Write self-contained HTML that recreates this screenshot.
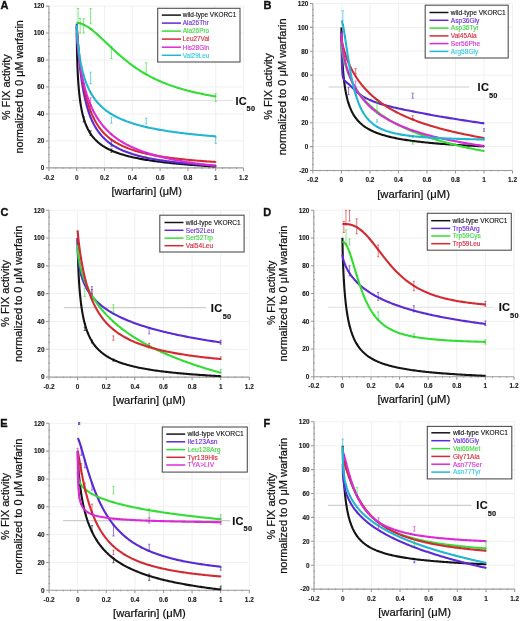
<!DOCTYPE html>
<html><head><meta charset="utf-8"><style>
html,body{margin:0;padding:0;background:#fff;}
svg{display:block;filter:blur(0.3px);}
text{font-family:"Liberation Sans", sans-serif;}
</style></head><body>
<svg width="520" height="621" viewBox="0 0 520 621">
<rect width="520" height="621" fill="#fff"/>
<path d="M76.7 6.08V167.9M104.5 6.08V167.9M132.3 6.08V167.9M160.1 6.08V167.9M187.9 6.08V167.9M215.7 6.08V167.9M243.5 6.08V167.9M48.9 140.93H243.5M48.9 113.96H243.5M48.9 86.99H243.5M48.9 60.02H243.5M48.9 33.05H243.5M48.9 6.08H243.5" stroke="#f0f0f0" stroke-width="1" fill="none"/>
<path d="M72 100.48H232.7" stroke="#e0e0e0" stroke-width="1.2" fill="none"/>
<path d="M48.9 6.08V170.4M46.4 167.9H243.5M45.9 167.9h3M45.9 140.93h3M45.9 113.96h3M45.9 86.99h3M45.9 60.02h3M45.9 33.05h3M45.9 6.08h3M48.9 167.9v3M76.7 167.9v3M104.5 167.9v3M132.3 167.9v3M160.1 167.9v3M187.9 167.9v3M215.7 167.9v3M243.5 167.9v3" stroke="#9a9a9a" stroke-width="1.1" fill="none"/>
<path d="M48.4 161.16h1.5M48.4 154.42h1.5M48.4 147.67h1.5M48.4 134.19h1.5M48.4 127.45h1.5M48.4 120.7h1.5M48.4 107.22h1.5M48.4 100.48h1.5M48.4 93.73h1.5M48.4 80.25h1.5M48.4 73.51h1.5M48.4 66.76h1.5M48.4 53.28h1.5M48.4 46.53h1.5M48.4 39.79h1.5M48.4 26.31h1.5M48.4 19.56h1.5M48.4 12.82h1.5M55.85 167.4v1.5M62.8 167.4v1.5M69.75 167.4v1.5M83.65 167.4v1.5M90.6 167.4v1.5M97.55 167.4v1.5M111.45 167.4v1.5M118.4 167.4v1.5M125.35 167.4v1.5M139.25 167.4v1.5M146.2 167.4v1.5M153.15 167.4v1.5M167.05 167.4v1.5M174 167.4v1.5M180.95 167.4v1.5M194.85 167.4v1.5M201.8 167.4v1.5M208.75 167.4v1.5M222.65 167.4v1.5M229.6 167.4v1.5M236.55 167.4v1.5" stroke="#999" stroke-width="1" fill="none"/>
<g font-size="6.4" fill="#1a1a1a" font-weight="bold" stroke="#1a1a1a" stroke-width="0.12"><text x="44.4" y="170.2" text-anchor="end">0</text><text x="44.4" y="143.23" text-anchor="end">20</text><text x="44.4" y="116.26" text-anchor="end">40</text><text x="44.4" y="89.29" text-anchor="end">60</text><text x="44.4" y="62.32" text-anchor="end">80</text><text x="44.4" y="35.35" text-anchor="end">100</text><text x="44.4" y="8.38" text-anchor="end">120</text><text x="48.9" y="179.5" text-anchor="middle">-0.2</text><text x="76.7" y="179.5" text-anchor="middle">0</text><text x="104.5" y="179.5" text-anchor="middle">0.2</text><text x="132.3" y="179.5" text-anchor="middle">0.4</text><text x="160.1" y="179.5" text-anchor="middle">0.6</text><text x="187.9" y="179.5" text-anchor="middle">0.8</text><text x="215.7" y="179.5" text-anchor="middle">1</text><text x="243.5" y="179.5" text-anchor="middle">1.2</text></g>
<path d="M76.7,26.31 76.98,50.42 77.26,60.96 77.53,68.48 77.81,74.39 78.09,79.27 78.37,83.43 78.65,87.04 78.92,90.24 79.2,93.1 79.48,95.68 79.76,98.03 80.04,100.18 80.31,102.16 80.59,104 80.87,105.72 81.15,107.32 81.43,108.81 81.7,110.22 81.98,111.55 82.26,112.81 82.54,114 82.82,115.13 83.09,116.2 83.37,117.23 83.65,118.21 85.04,122.51 86.43,126.05 87.82,129.03 89.21,131.6 90.6,133.83 91.99,135.8 93.38,137.55 94.77,139.13 96.16,140.55 97.55,141.85 98.94,143.04 100.33,144.13 101.72,145.14 103.11,146.07 104.5,146.94 105.89,147.76 107.28,148.52 108.67,149.24 110.06,149.91 111.45,150.55 112.84,151.15 114.23,151.72 115.62,152.26 117.01,152.78 118.4,153.27 119.79,153.73 121.18,154.18 122.57,154.61 123.96,155.02 125.35,155.41 126.74,155.78 128.13,156.15 129.52,156.49 130.91,156.83 132.3,157.15 133.69,157.46 135.08,157.76 136.47,158.05 137.86,158.33 139.25,158.6 140.64,158.87 142.03,159.12 143.42,159.37 144.81,159.61 146.2,159.84 147.59,160.06 148.98,160.28 150.37,160.49 151.76,160.7 153.15,160.9 154.54,161.1 155.93,161.29 157.32,161.47 158.71,161.66 160.1,161.83 161.49,162 162.88,162.17 164.27,162.34 165.66,162.5 167.05,162.65 168.44,162.81 169.83,162.96 171.22,163.1 172.61,163.24 174,163.38 175.39,163.52 176.78,163.66 178.17,163.79 179.56,163.92 180.95,164.04 182.34,164.16 183.73,164.29 185.12,164.4 186.51,164.52 187.9,164.64 189.29,164.75 190.68,164.86 192.07,164.97 193.46,165.07 194.85,165.18 196.24,165.28 197.63,165.38 199.02,165.48 200.41,165.57 201.8,165.67 203.19,165.76 204.58,165.86 205.97,165.95 207.36,166.04 208.75,166.12 210.14,166.21 211.53,166.3 212.92,166.38 214.31,166.46 215.7,166.54" stroke="#141414" stroke-width="2.1" fill="none" stroke-linejoin="round"/>
<path d="M77.39 78.57h1.4v1.4h-1.4zM79.47 100.49h1.4v1.4h-1.4zM82.95 117.51h1.4v1.4h-1.4zM89.9 133.13h1.4v1.4h-1.4zM110.75 149.85h1.4v1.4h-1.4zM145.5 159.14h1.4v1.4h-1.4zM215 165.84h1.4v1.4h-1.4z" fill="#000" opacity="0.55"/>
<path d="M76.7,23.6 76.98,29.03 77.26,33.85 77.53,38.28 77.81,42.4 78.09,46.24 78.37,49.84 78.65,53.22 78.92,56.41 79.2,59.43 79.48,62.28 79.76,64.99 80.04,67.56 80.31,70.01 80.59,72.34 80.87,74.57 81.15,76.7 81.43,78.73 81.7,80.68 81.98,82.55 82.26,84.34 82.54,86.06 82.82,87.72 83.09,89.31 83.37,90.84 83.65,92.32 85.04,98.96 86.43,104.59 87.82,109.42 89.21,113.61 90.6,117.29 91.99,120.54 93.38,123.44 94.77,126.04 96.16,128.38 97.55,130.5 98.94,132.44 100.33,134.21 101.72,135.84 103.11,137.34 104.5,138.73 105.89,140.01 107.28,141.21 108.67,142.33 110.06,143.37 111.45,144.35 112.84,145.27 114.23,146.13 115.62,146.94 117.01,147.71 118.4,148.44 119.79,149.13 121.18,149.78 122.57,150.41 123.96,151 125.35,151.56 126.74,152.1 128.13,152.61 129.52,153.1 130.91,153.57 132.3,154.01 133.69,154.44 135.08,154.86 136.47,155.25 137.86,155.63 139.25,156 140.64,156.35 142.03,156.69 143.42,157.02 144.81,157.33 146.2,157.64 147.59,157.93 148.98,158.21 150.37,158.49 151.76,158.75 153.15,159.01 154.54,159.26 155.93,159.5 157.32,159.74 158.71,159.96 160.1,160.18 161.49,160.4 162.88,160.61 164.27,160.81 165.66,161 167.05,161.19 168.44,161.38 169.83,161.56 171.22,161.74 172.61,161.91 174,162.07 175.39,162.24 176.78,162.4 178.17,162.55 179.56,162.7 180.95,162.85 182.34,162.99 183.73,163.13 185.12,163.27 186.51,163.4 187.9,163.54 189.29,163.66 190.68,163.79 192.07,163.91 193.46,164.03 194.85,164.15 196.24,164.26 197.63,164.37 199.02,164.48 200.41,164.59 201.8,164.7 203.19,164.8 204.58,164.9 205.97,165 207.36,165.1 208.75,165.2 210.14,165.29 211.53,165.38 212.92,165.47 214.31,165.56 215.7,165.65" stroke="#5a2ad6" stroke-width="2.1" fill="none" stroke-linejoin="round"/>
<path d="M77.39 45.54h1.4v1.4h-1.4zM79.47 68.1h1.4v1.4h-1.4zM82.95 91.62h1.4v1.4h-1.4zM89.9 116.59h1.4v1.4h-1.4zM110.75 143.65h1.4v1.4h-1.4zM145.5 156.94h1.4v1.4h-1.4zM215 164.95h1.4v1.4h-1.4z" fill="#3a1a9a" opacity="0.55"/>
<path d="M76.7,22.87 76.98,22.88 77.26,22.89 77.53,22.91 77.81,22.93 78.09,22.97 78.37,23 78.65,23.05 78.92,23.09 79.2,23.15 79.48,23.21 79.76,23.27 80.04,23.34 80.31,23.41 80.59,23.49 80.87,23.57 81.15,23.66 81.43,23.75 81.7,23.85 81.98,23.95 82.26,24.05 82.54,24.16 82.82,24.27 83.09,24.39 83.37,24.51 83.65,24.64 85.04,25.32 86.43,26.09 87.82,26.94 89.21,27.87 90.6,28.87 91.99,29.92 93.38,31.03 94.77,32.19 96.16,33.38 97.55,34.61 98.94,35.87 100.33,37.16 101.72,38.46 103.11,39.78 104.5,41.1 105.89,42.43 107.28,43.76 108.67,45.09 110.06,46.42 111.45,47.73 112.84,49.04 114.23,50.33 115.62,51.61 117.01,52.88 118.4,54.12 119.79,55.35 121.18,56.55 122.57,57.74 123.96,58.9 125.35,60.04 126.74,61.16 128.13,62.25 129.52,63.32 130.91,64.37 132.3,65.39 133.69,66.39 135.08,67.37 136.47,68.32 137.86,69.25 139.25,70.16 140.64,71.04 142.03,71.9 143.42,72.74 144.81,73.56 146.2,74.36 147.59,75.14 148.98,75.89 150.37,76.63 151.76,77.35 153.15,78.05 154.54,78.73 155.93,79.39 157.32,80.04 158.71,80.67 160.1,81.28 161.49,81.88 162.88,82.46 164.27,83.02 165.66,83.57 167.05,84.11 168.44,84.63 169.83,85.14 171.22,85.63 172.61,86.12 174,86.59 175.39,87.05 176.78,87.49 178.17,87.93 179.56,88.35 180.95,88.77 182.34,89.17 183.73,89.56 185.12,89.94 186.51,90.32 187.9,90.68 189.29,91.04 190.68,91.39 192.07,91.72 193.46,92.05 194.85,92.38 196.24,92.69 197.63,93 199.02,93.3 200.41,93.59 201.8,93.88 203.19,94.16 204.58,94.43 205.97,94.7 207.36,94.96 208.75,95.21 210.14,95.46 211.53,95.7 212.92,95.94 214.31,96.17 215.7,96.4" stroke="#33dd33" stroke-width="2.1" fill="none" stroke-linejoin="round"/>
<path d="M77.39 22.27h1.4v1.4h-1.4zM79.47 22.67h1.4v1.4h-1.4zM82.95 23.94h1.4v1.4h-1.4zM89.9 28.17h1.4v1.4h-1.4zM110.75 47.03h1.4v1.4h-1.4zM145.5 73.66h1.4v1.4h-1.4zM215 95.7h1.4v1.4h-1.4z" fill="#2a9a2a" opacity="0.55"/>
<path d="M76.7,26.31 76.98,30.1 77.26,33.76 77.53,37.26 77.81,40.6 78.09,43.79 78.37,46.83 78.65,49.74 78.92,52.52 79.2,55.18 79.48,57.73 79.76,60.17 80.04,62.51 80.31,64.76 80.59,66.92 80.87,68.99 81.15,70.99 81.43,72.91 81.7,74.76 81.98,76.54 82.26,78.26 82.54,79.92 82.82,81.52 83.09,83.07 83.37,84.57 83.65,86.01 85.04,92.59 86.43,98.24 87.82,103.14 89.21,107.43 90.6,111.21 91.99,114.58 93.38,117.59 94.77,120.31 96.16,122.76 97.55,124.99 98.94,127.03 100.33,128.89 101.72,130.61 103.11,132.2 104.5,133.66 105.89,135.02 107.28,136.29 108.67,137.47 110.06,138.58 111.45,139.61 112.84,140.59 114.23,141.5 115.62,142.37 117.01,143.18 118.4,143.95 119.79,144.68 121.18,145.37 122.57,146.03 123.96,146.65 125.35,147.25 126.74,147.82 128.13,148.36 129.52,148.87 130.91,149.37 132.3,149.84 133.69,150.3 135.08,150.73 136.47,151.15 137.86,151.55 139.25,151.93 140.64,152.3 142.03,152.66 143.42,153.01 144.81,153.34 146.2,153.66 147.59,153.96 148.98,154.26 150.37,154.55 151.76,154.83 153.15,155.1 154.54,155.36 155.93,155.61 157.32,155.86 158.71,156.09 160.1,156.33 161.49,156.55 162.88,156.77 164.27,156.98 165.66,157.18 167.05,157.38 168.44,157.57 169.83,157.76 171.22,157.94 172.61,158.12 174,158.3 175.39,158.47 176.78,158.63 178.17,158.79 179.56,158.95 180.95,159.1 182.34,159.25 183.73,159.4 185.12,159.54 186.51,159.68 187.9,159.81 189.29,159.94 190.68,160.07 192.07,160.2 193.46,160.32 194.85,160.45 196.24,160.56 197.63,160.68 199.02,160.79 200.41,160.9 201.8,161.01 203.19,161.12 204.58,161.22 205.97,161.33 207.36,161.43 208.75,161.52 210.14,161.62 211.53,161.71 212.92,161.81 214.31,161.9 215.7,161.99" stroke="#d42a32" stroke-width="2.1" fill="none" stroke-linejoin="round"/>
<path d="M77.39 43.09h1.4v1.4h-1.4zM79.47 62.95h1.4v1.4h-1.4zM82.95 85.31h1.4v1.4h-1.4zM89.9 110.51h1.4v1.4h-1.4zM110.75 138.91h1.4v1.4h-1.4zM145.5 152.96h1.4v1.4h-1.4zM215 161.29h1.4v1.4h-1.4z" fill="#9a1a22" opacity="0.55"/>
<path d="M76.7,33.05 76.98,37.64 77.26,41.16 77.53,44.29 77.81,47.14 78.09,49.79 78.37,52.27 78.65,54.6 78.92,56.82 79.2,58.92 79.48,60.92 79.76,62.83 80.04,64.67 80.31,66.42 80.59,68.11 80.87,69.74 81.15,71.31 81.43,72.82 81.7,74.28 81.98,75.7 82.26,77.07 82.54,78.39 82.82,79.68 83.09,80.93 83.37,82.14 83.65,83.32 85.04,88.74 86.43,93.52 87.82,97.77 89.21,101.58 90.6,105.03 91.99,108.16 93.38,111.03 94.77,113.67 96.16,116.1 97.55,118.35 98.94,120.45 100.33,122.4 101.72,124.23 103.11,125.94 104.5,127.55 105.89,129.07 107.28,130.5 108.67,131.85 110.06,133.14 111.45,134.35 112.84,135.51 114.23,136.61 115.62,137.66 117.01,138.66 118.4,139.62 119.79,140.53 121.18,141.41 122.57,142.25 123.96,143.06 125.35,143.83 126.74,144.57 128.13,145.29 129.52,145.98 130.91,146.64 132.3,147.29 133.69,147.91 135.08,148.5 136.47,149.08 137.86,149.64 139.25,150.18 140.64,150.7 142.03,151.21 143.42,151.7 144.81,152.18 146.2,152.64 147.59,153.09 148.98,153.53 150.37,153.95 151.76,154.37 153.15,154.77 154.54,155.16 155.93,155.54 157.32,155.91 158.71,156.27 160.1,156.62 161.49,156.96 162.88,157.3 164.27,157.62 165.66,157.94 167.05,158.25 168.44,158.56 169.83,158.85 171.22,159.14 172.61,159.43 174,159.7 175.39,159.97 176.78,160.24 178.17,160.5 179.56,160.75 180.95,161 182.34,161.24 183.73,161.48 185.12,161.71 186.51,161.94 187.9,162.17 189.29,162.39 190.68,162.6 192.07,162.81 193.46,163.02 194.85,163.23 196.24,163.43 197.63,163.62 199.02,163.81 200.41,164 201.8,164.19 203.19,164.37 204.58,164.55 205.97,164.73 207.36,164.9 208.75,165.07 210.14,165.24 211.53,165.4 212.92,165.56 214.31,165.72 215.7,165.88" stroke="#dc2ad8" stroke-width="2.1" fill="none" stroke-linejoin="round"/>
<path d="M77.39 49.09h1.4v1.4h-1.4zM79.47 64.85h1.4v1.4h-1.4zM82.95 82.62h1.4v1.4h-1.4zM89.9 104.33h1.4v1.4h-1.4zM110.75 133.65h1.4v1.4h-1.4zM145.5 151.94h1.4v1.4h-1.4zM215 165.18h1.4v1.4h-1.4z" fill="#9a1a98" opacity="0.55"/>
<path d="M76.7,24.95 76.98,31.14 77.26,35.29 77.53,38.78 77.81,41.85 78.09,44.61 78.37,47.13 78.65,49.46 78.92,51.62 79.2,53.64 79.48,55.53 79.76,57.32 80.04,59.01 80.31,60.62 80.59,62.14 80.87,63.6 81.15,64.99 81.43,66.32 81.7,67.59 81.98,68.81 82.26,69.99 82.54,71.12 82.82,72.21 83.09,73.26 83.37,74.27 83.65,75.26 85.04,79.71 86.43,83.55 87.82,86.9 89.21,89.87 90.6,92.52 91.99,94.91 93.38,97.08 94.77,99.05 96.16,100.86 97.55,102.52 98.94,104.07 100.33,105.5 101.72,106.83 103.11,108.07 104.5,109.24 105.89,110.33 107.28,111.36 108.67,112.33 110.06,113.25 111.45,114.12 112.84,114.95 114.23,115.73 115.62,116.48 117.01,117.19 118.4,117.87 119.79,118.52 121.18,119.14 122.57,119.73 123.96,120.3 125.35,120.85 126.74,121.37 128.13,121.88 129.52,122.36 130.91,122.83 132.3,123.29 133.69,123.72 135.08,124.14 136.47,124.55 137.86,124.94 139.25,125.32 140.64,125.69 142.03,126.05 143.42,126.39 144.81,126.73 146.2,127.05 147.59,127.37 148.98,127.68 150.37,127.98 151.76,128.27 153.15,128.55 154.54,128.82 155.93,129.09 157.32,129.35 158.71,129.6 160.1,129.85 161.49,130.09 162.88,130.33 164.27,130.56 165.66,130.78 167.05,131 168.44,131.21 169.83,131.42 171.22,131.63 172.61,131.83 174,132.02 175.39,132.21 176.78,132.4 178.17,132.58 179.56,132.76 180.95,132.94 182.34,133.11 183.73,133.28 185.12,133.44 186.51,133.6 187.9,133.76 189.29,133.92 190.68,134.07 192.07,134.22 193.46,134.37 194.85,134.51 196.24,134.65 197.63,134.79 199.02,134.93 200.41,135.06 201.8,135.19 203.19,135.32 204.58,135.45 205.97,135.57 207.36,135.7 208.75,135.82 210.14,135.93 211.53,136.05 212.92,136.17 214.31,136.28 215.7,136.39" stroke="#22b6d2" stroke-width="2.1" fill="none" stroke-linejoin="round"/>
<path d="M77.39 43.91h1.4v1.4h-1.4zM79.47 59.13h1.4v1.4h-1.4zM82.95 74.56h1.4v1.4h-1.4zM89.9 91.82h1.4v1.4h-1.4zM110.75 113.42h1.4v1.4h-1.4zM145.5 126.35h1.4v1.4h-1.4zM215 135.69h1.4v1.4h-1.4z" fill="#1a8aa0" opacity="0.55"/>
<path d="M78.09 8.51V22.94M76.99 8.51h2.2M76.99 22.94h2.2" stroke="#33dd33" stroke-width="0.9" fill="none" opacity="0.7"/><path d="M80.17 18.49V33.05M79.08 18.49h2.2M79.08 33.05h2.2" stroke="#33dd33" stroke-width="0.9" fill="none" opacity="0.7"/><path d="M83.65 18.49V33.05M82.55 18.49h2.2M82.55 33.05h2.2" stroke="#33dd33" stroke-width="0.9" fill="none" opacity="0.7"/><path d="M90.6 8.51V23.75M89.5 8.51h2.2M89.5 23.75h2.2" stroke="#33dd33" stroke-width="0.9" fill="none" opacity="0.7"/><path d="M111.45 46.13V58.54M110.35 46.13h2.2M110.35 58.54h2.2" stroke="#33dd33" stroke-width="0.9" fill="none" opacity="0.7"/><path d="M146.2 62.72V72.16M145.1 62.72h2.2M145.1 72.16h2.2" stroke="#33dd33" stroke-width="0.9" fill="none" opacity="0.7"/><path d="M215.7 93.73V101.55M214.6 93.73h2.2M214.6 101.55h2.2" stroke="#33dd33" stroke-width="0.9" fill="none" opacity="0.7"/><path d="M90.6 72.16V83.62M89.5 72.16h2.2M89.5 83.62h2.2" stroke="#22b6d2" stroke-width="0.9" fill="none" opacity="0.7"/><path d="M111.45 117.33V123.13M110.35 117.33h2.2M110.35 123.13h2.2" stroke="#22b6d2" stroke-width="0.9" fill="none" opacity="0.7"/><path d="M146.2 118.14V123.94M145.1 118.14h2.2M145.1 123.94h2.2" stroke="#22b6d2" stroke-width="0.9" fill="none" opacity="0.7"/><path d="M215.7 137.56V143.36M214.6 137.56h2.2M214.6 143.36h2.2" stroke="#22b6d2" stroke-width="0.9" fill="none" opacity="0.7"/><path d="M90.6 97.78V107.22M89.5 97.78h2.2M89.5 107.22h2.2" stroke="#dc2ad8" stroke-width="0.9" fill="none" opacity="0.7"/><path d="M111.45 140.93V146.32M110.35 140.93h2.2M110.35 146.32h2.2" stroke="#5a2ad6" stroke-width="0.9" fill="none" opacity="0.7"/><path d="M83.65 116.66V122.05M82.55 116.66h2.2M82.55 122.05h2.2" stroke="#141414" stroke-width="0.9" fill="none" opacity="0.7"/><path d="M90.6 130.82V135.54M89.5 130.82h2.2M89.5 135.54h2.2" stroke="#141414" stroke-width="0.9" fill="none" opacity="0.7"/><path d="M111.45 149.02V152.39M110.35 149.02h2.2M110.35 152.39h2.2" stroke="#141414" stroke-width="0.9" fill="none" opacity="0.7"/>
<rect x="157.7" y="8.3" width="82.3" height="53.7" fill="#fff" stroke="#505050" stroke-width="1.1"/>
<path d="M161.8 15.1H181" stroke="#141414" stroke-width="1.5"/>
<text x="182.8" y="17.4" font-size="6.42" fill="#111111" stroke="#111111" stroke-width="0.12">wild-type VKORC1</text>
<path d="M161.8 23.1H181" stroke="#5a2ad6" stroke-width="1.5"/>
<text x="182.8" y="25.4" font-size="6.42" fill="#6a2ae0" stroke="#6a2ae0" stroke-width="0.12">Ala26Thr</text>
<path d="M161.8 31.1H181" stroke="#33dd33" stroke-width="1.5"/>
<text x="182.8" y="33.4" font-size="6.42" fill="#3ad83a" stroke="#3ad83a" stroke-width="0.12">Ala26Pro</text>
<path d="M161.8 39.1H181" stroke="#d42a32" stroke-width="1.5"/>
<text x="182.8" y="41.4" font-size="6.42" fill="#d8283a" stroke="#d8283a" stroke-width="0.12">Leu27Val</text>
<path d="M161.8 47.2H181" stroke="#dc2ad8" stroke-width="1.5"/>
<text x="182.8" y="49.5" font-size="6.42" fill="#d82ad8" stroke="#d82ad8" stroke-width="0.12">His28Gln</text>
<path d="M161.8 55.3H181" stroke="#22b6d2" stroke-width="1.5"/>
<text x="182.8" y="57.6" font-size="6.42" fill="#30c8e0" stroke="#30c8e0" stroke-width="0.12">Val29Leu</text>
<text x="235.4" y="105" font-size="11" font-weight="bold" letter-spacing="0.35" fill="#111" stroke="#111" stroke-width="0.15">IC</text>
<text x="246.6" y="110.6" font-size="7.4" font-weight="bold" letter-spacing="0.25" fill="#111" stroke="#111" stroke-width="0.15">50</text>
<text x="146.6" y="194.7" font-size="10.9" text-anchor="middle" fill="#111" stroke="#111" stroke-width="0.22">[warfarin] (μM)</text>
<text transform="translate(9.9 87.25) rotate(-90)" font-size="10.85" text-anchor="middle" fill="#111" stroke="#111" stroke-width="0.22">% FIX activity</text>
<text transform="translate(22.6 86.85) rotate(-90)" font-size="10.8" text-anchor="middle" fill="#111" stroke="#111" stroke-width="0.22">normalized to 0 μM warfarin</text>
<text x="0.4" y="8.9" font-size="11" font-weight="bold" fill="#111" stroke="#111" stroke-width="0.35">A</text>
<path d="M341.4 3.56V170.44M369.92 3.56V170.44M398.44 3.56V170.44M426.96 3.56V170.44M455.48 3.56V170.44M484 3.56V170.44M512.52 3.56V170.44M312.88 146.6H512.52M312.88 122.76H512.52M312.88 98.92H512.52M312.88 75.08H512.52M312.88 51.24H512.52M312.88 27.4H512.52M312.88 3.56H512.52" stroke="#f0f0f0" stroke-width="1" fill="none"/>
<path d="M328.5 87H469.2" stroke="#cdcdcd" stroke-width="1.2" fill="none"/>
<path d="M312.88 3.56V172.94M310.38 170.44H512.52M309.88 170.44h3M309.88 146.6h3M309.88 122.76h3M309.88 98.92h3M309.88 75.08h3M309.88 51.24h3M309.88 27.4h3M309.88 3.56h3M312.88 170.44v3M341.4 170.44v3M369.92 170.44v3M398.44 170.44v3M426.96 170.44v3M455.48 170.44v3M484 170.44v3M512.52 170.44v3" stroke="#9a9a9a" stroke-width="1.1" fill="none"/>
<path d="M312.38 164.48h1.5M312.38 158.52h1.5M312.38 152.56h1.5M312.38 140.64h1.5M312.38 134.68h1.5M312.38 128.72h1.5M312.38 116.8h1.5M312.38 110.84h1.5M312.38 104.88h1.5M312.38 92.96h1.5M312.38 87h1.5M312.38 81.04h1.5M312.38 69.12h1.5M312.38 63.16h1.5M312.38 57.2h1.5M312.38 45.28h1.5M312.38 39.32h1.5M312.38 33.36h1.5M312.38 21.44h1.5M312.38 15.48h1.5M312.38 9.52h1.5M320.01 169.94v1.5M327.14 169.94v1.5M334.27 169.94v1.5M348.53 169.94v1.5M355.66 169.94v1.5M362.79 169.94v1.5M377.05 169.94v1.5M384.18 169.94v1.5M391.31 169.94v1.5M405.57 169.94v1.5M412.7 169.94v1.5M419.83 169.94v1.5M434.09 169.94v1.5M441.22 169.94v1.5M448.35 169.94v1.5M462.61 169.94v1.5M469.74 169.94v1.5M476.87 169.94v1.5M491.13 169.94v1.5M498.26 169.94v1.5M505.39 169.94v1.5" stroke="#999" stroke-width="1" fill="none"/>
<g font-size="6.4" fill="#1a1a1a" font-weight="bold" stroke="#1a1a1a" stroke-width="0.12"><text x="308.38" y="172.74" text-anchor="end">-20</text><text x="308.38" y="148.9" text-anchor="end">0</text><text x="308.38" y="125.06" text-anchor="end">20</text><text x="308.38" y="101.22" text-anchor="end">40</text><text x="308.38" y="77.38" text-anchor="end">60</text><text x="308.38" y="53.54" text-anchor="end">80</text><text x="308.38" y="29.7" text-anchor="end">100</text><text x="308.38" y="5.86" text-anchor="end">120</text><text x="312.88" y="182.04" text-anchor="middle">-0.2</text><text x="341.4" y="182.04" text-anchor="middle">0</text><text x="369.92" y="182.04" text-anchor="middle">0.2</text><text x="398.44" y="182.04" text-anchor="middle">0.4</text><text x="426.96" y="182.04" text-anchor="middle">0.6</text><text x="455.48" y="182.04" text-anchor="middle">0.8</text><text x="484" y="182.04" text-anchor="middle">1</text><text x="512.52" y="182.04" text-anchor="middle">1.2</text></g>
<path d="M341.4,27.37 341.69,43.31 341.97,51.71 342.26,58.01 342.54,63.11 342.83,67.41 343.11,71.13 343.4,74.39 343.68,77.3 343.97,79.92 344.25,82.3 344.54,84.47 344.82,86.47 345.11,88.32 345.39,90.03 345.68,91.63 345.96,93.13 346.25,94.53 346.53,95.85 346.82,97.1 347.1,98.28 347.39,99.4 347.67,100.46 347.96,101.46 348.24,102.43 348.53,103.34 349.96,107.37 351.38,110.68 352.81,113.46 354.23,115.84 355.66,117.9 357.09,119.72 358.51,121.32 359.94,122.76 361.36,124.06 362.79,125.23 364.22,126.31 365.64,127.29 367.07,128.19 368.49,129.03 369.92,129.81 371.35,130.53 372.77,131.2 374.2,131.84 375.62,132.43 377.05,132.99 378.48,133.51 379.9,134.01 381.33,134.48 382.75,134.93 384.18,135.35 385.61,135.76 387.03,136.14 388.46,136.51 389.88,136.86 391.31,137.2 392.74,137.52 394.16,137.83 395.59,138.12 397.01,138.41 398.44,138.68 399.87,138.94 401.29,139.19 402.72,139.44 404.14,139.67 405.57,139.9 407,140.12 408.42,140.33 409.85,140.54 411.27,140.74 412.7,140.93 414.13,141.12 415.55,141.3 416.98,141.48 418.4,141.65 419.83,141.81 421.26,141.97 422.68,142.13 424.11,142.28 425.53,142.43 426.96,142.58 428.39,142.72 429.81,142.86 431.24,142.99 432.66,143.12 434.09,143.25 435.52,143.37 436.94,143.49 438.37,143.61 439.79,143.73 441.22,143.84 442.65,143.95 444.07,144.06 445.5,144.17 446.92,144.27 448.35,144.37 449.78,144.47 451.2,144.57 452.63,144.66 454.05,144.76 455.48,144.85 456.91,144.94 458.33,145.02 459.76,145.11 461.18,145.19 462.61,145.28 464.04,145.36 465.46,145.44 466.89,145.52 468.31,145.59 469.74,145.67 471.17,145.74 472.59,145.82 474.02,145.89 475.44,145.96 476.87,146.03 478.3,146.1 479.72,146.16 481.15,146.23 482.57,146.29 484,146.36" stroke="#141414" stroke-width="2.1" fill="none" stroke-linejoin="round"/>
<path d="M342.13 66.71h1.4v1.4h-1.4zM344.26 86.71h1.4v1.4h-1.4zM347.83 102.64h1.4v1.4h-1.4zM354.96 117.2h1.4v1.4h-1.4zM376.35 132.29h1.4v1.4h-1.4zM412 140.23h1.4v1.4h-1.4zM483.3 145.66h1.4v1.4h-1.4z" fill="#000" opacity="0.55"/>
<path d="M341.4,31.57 341.69,52.27 341.97,64.61 342.26,71.53 342.54,74.84 342.83,76.44 343.11,77.58 343.4,78.43 343.68,79.09 343.97,79.62 344.25,80.06 344.54,80.44 344.82,80.77 345.11,81.07 345.39,81.35 345.68,81.61 345.96,81.86 346.25,82.11 346.53,82.35 346.82,82.59 347.1,82.83 347.39,83.07 347.67,83.31 347.96,83.55 348.24,83.79 348.53,84.04 349.96,85.31 351.38,86.67 352.81,88.1 354.23,89.52 355.66,90.87 357.09,92.15 358.51,93.34 359.94,94.43 361.36,95.44 362.79,96.36 364.22,97.2 365.64,97.97 367.07,98.67 368.49,99.35 369.92,99.98 371.35,100.59 372.77,101.16 374.2,101.71 375.62,102.24 377.05,102.74 378.48,103.23 379.9,103.69 381.33,104.13 382.75,104.56 384.18,104.96 385.61,105.36 387.03,105.73 388.46,106.1 389.88,106.46 391.31,106.81 392.74,107.15 394.16,107.48 395.59,107.82 397.01,108.14 398.44,108.46 399.87,108.77 401.29,109.07 402.72,109.37 404.14,109.66 405.57,109.95 407,110.23 408.42,110.52 409.85,110.8 411.27,111.08 412.7,111.37 414.13,111.65 415.55,111.94 416.98,112.22 418.4,112.5 419.83,112.78 421.26,113.05 422.68,113.32 424.11,113.59 425.53,113.86 426.96,114.13 428.39,114.39 429.81,114.65 431.24,114.91 432.66,115.17 434.09,115.42 435.52,115.68 436.94,115.93 438.37,116.18 439.79,116.42 441.22,116.67 442.65,116.91 444.07,117.16 445.5,117.4 446.92,117.64 448.35,117.87 449.78,118.11 451.2,118.34 452.63,118.58 454.05,118.81 455.48,119.04 456.91,119.26 458.33,119.49 459.76,119.72 461.18,119.94 462.61,120.16 464.04,120.39 465.46,120.61 466.89,120.82 468.31,121.04 469.74,121.26 471.17,121.47 472.59,121.69 474.02,121.9 475.44,122.11 476.87,122.32 478.3,122.53 479.72,122.74 481.15,122.95 482.57,123.15 484,123.36" stroke="#5a2ad6" stroke-width="2.1" fill="none" stroke-linejoin="round"/>
<path d="M342.13 75.74h1.4v1.4h-1.4zM344.26 80.22h1.4v1.4h-1.4zM347.83 83.34h1.4v1.4h-1.4zM354.96 90.17h1.4v1.4h-1.4zM376.35 102.04h1.4v1.4h-1.4zM412 110.67h1.4v1.4h-1.4zM483.3 122.66h1.4v1.4h-1.4z" fill="#3a1a9a" opacity="0.55"/>
<path d="M341.4,41.7 341.69,46.18 341.97,48.72 342.26,50.8 342.54,52.61 342.83,54.24 343.11,55.74 343.4,57.13 343.68,58.44 343.97,59.67 344.25,60.84 344.54,61.96 344.82,63.03 345.11,64.05 345.39,65.04 345.68,65.99 345.96,66.9 346.25,67.79 346.53,68.65 346.82,69.49 347.1,70.3 347.39,71.09 347.67,71.86 347.96,72.61 348.24,73.34 348.53,74.05 349.96,77.4 351.38,80.41 352.81,83.17 354.23,85.72 355.66,88.08 357.09,90.28 358.51,92.35 359.94,94.29 361.36,96.13 362.79,97.87 364.22,99.53 365.64,101.1 367.07,102.61 368.49,104.05 369.92,105.43 371.35,106.75 372.77,108.03 374.2,109.25 375.62,110.43 377.05,111.57 378.48,112.67 379.9,113.73 381.33,114.76 382.75,115.76 384.18,116.73 385.61,117.66 387.03,118.57 388.46,119.46 389.88,120.32 391.31,121.15 392.74,121.97 394.16,122.76 395.59,123.53 397.01,124.28 398.44,125.02 399.87,125.73 401.29,126.43 402.72,127.12 404.14,127.79 405.57,128.44 407,129.08 408.42,129.7 409.85,130.32 411.27,130.91 412.7,131.5 414.13,132.08 415.55,132.64 416.98,133.19 418.4,133.73 419.83,134.26 421.26,134.79 422.68,135.3 424.11,135.8 425.53,136.29 426.96,136.78 428.39,137.25 429.81,137.72 431.24,138.18 432.66,138.63 434.09,139.08 435.52,139.51 436.94,139.94 438.37,140.36 439.79,140.78 441.22,141.19 442.65,141.59 444.07,141.99 445.5,142.38 446.92,142.77 448.35,143.14 449.78,143.52 451.2,143.89 452.63,144.25 454.05,144.61 455.48,144.96 456.91,145.31 458.33,145.65 459.76,145.99 461.18,146.32 462.61,146.65 464.04,146.98 465.46,147.3 466.89,147.61 468.31,147.92 469.74,148.23 471.17,148.54 472.59,148.84 474.02,149.13 475.44,149.43 476.87,149.72 478.3,150 479.72,150.28 481.15,150.56 482.57,150.84 484,151.11" stroke="#33dd33" stroke-width="2.1" fill="none" stroke-linejoin="round"/>
<path d="M342.13 53.54h1.4v1.4h-1.4zM344.26 62.84h1.4v1.4h-1.4zM347.83 73.35h1.4v1.4h-1.4zM354.96 87.38h1.4v1.4h-1.4zM376.35 110.87h1.4v1.4h-1.4zM412 130.8h1.4v1.4h-1.4zM483.3 150.41h1.4v1.4h-1.4z" fill="#2a9a2a" opacity="0.55"/>
<path d="M341.4,36.93 341.69,39.42 341.97,41.16 342.26,42.68 342.54,44.06 342.83,45.33 343.11,46.54 343.4,47.67 343.68,48.76 343.97,49.8 344.25,50.8 344.54,51.76 344.82,52.69 345.11,53.59 345.39,54.47 345.68,55.31 345.96,56.14 346.25,56.94 346.53,57.73 346.82,58.49 347.1,59.24 347.39,59.97 347.67,60.68 347.96,61.38 348.24,62.07 348.53,62.74 349.96,65.91 351.38,68.81 352.81,71.48 354.23,73.97 355.66,76.3 357.09,78.47 358.51,80.53 359.94,82.47 361.36,84.3 362.79,86.05 364.22,87.7 365.64,89.29 367.07,90.8 368.49,92.25 369.92,93.63 371.35,94.96 372.77,96.24 374.2,97.47 375.62,98.65 377.05,99.8 378.48,100.9 379.9,101.96 381.33,102.99 382.75,103.99 384.18,104.95 385.61,105.89 387.03,106.79 388.46,107.67 389.88,108.53 391.31,109.36 392.74,110.16 394.16,110.95 395.59,111.71 397.01,112.45 398.44,113.18 399.87,113.88 401.29,114.57 402.72,115.24 404.14,115.9 405.57,116.54 407,117.16 408.42,117.77 409.85,118.36 411.27,118.95 412.7,119.52 414.13,120.07 415.55,120.62 416.98,121.15 418.4,121.68 419.83,122.19 421.26,122.69 422.68,123.18 424.11,123.66 425.53,124.14 426.96,124.6 428.39,125.05 429.81,125.5 431.24,125.94 432.66,126.37 434.09,126.79 435.52,127.2 436.94,127.61 438.37,128.01 439.79,128.4 441.22,128.79 442.65,129.17 444.07,129.54 445.5,129.91 446.92,130.27 448.35,130.62 449.78,130.97 451.2,131.32 452.63,131.66 454.05,131.99 455.48,132.32 456.91,132.64 458.33,132.96 459.76,133.27 461.18,133.58 462.61,133.88 464.04,134.18 465.46,134.48 466.89,134.77 468.31,135.06 469.74,135.34 471.17,135.62 472.59,135.89 474.02,136.16 475.44,136.43 476.87,136.7 478.3,136.96 479.72,137.21 481.15,137.47 482.57,137.72 484,137.96" stroke="#d42a32" stroke-width="2.1" fill="none" stroke-linejoin="round"/>
<path d="M342.13 44.63h1.4v1.4h-1.4zM344.26 52.44h1.4v1.4h-1.4zM347.83 62.04h1.4v1.4h-1.4zM354.96 75.6h1.4v1.4h-1.4zM376.35 99.1h1.4v1.4h-1.4zM412 118.82h1.4v1.4h-1.4zM483.3 137.26h1.4v1.4h-1.4z" fill="#9a1a22" opacity="0.55"/>
<path d="M341.4,33.35 341.69,38.65 341.97,41.82 342.26,44.42 342.54,46.69 342.83,48.74 343.11,50.61 343.4,52.35 343.68,53.97 343.97,55.49 344.25,56.94 344.54,58.31 344.82,59.62 345.11,60.86 345.39,62.06 345.68,63.21 345.96,64.32 346.25,65.39 346.53,66.42 346.82,67.42 347.1,68.38 347.39,69.32 347.67,70.22 347.96,71.11 348.24,71.96 348.53,72.8 349.96,76.67 351.38,80.11 352.81,83.2 354.23,86.02 355.66,88.6 357.09,90.98 358.51,93.19 359.94,95.24 361.36,97.16 362.79,98.96 364.22,100.66 365.64,102.26 367.07,103.78 368.49,105.22 369.92,106.58 371.35,107.88 372.77,109.12 374.2,110.31 375.62,111.44 377.05,112.53 378.48,113.57 379.9,114.57 381.33,115.54 382.75,116.47 384.18,117.36 385.61,118.22 387.03,119.05 388.46,119.86 389.88,120.64 391.31,121.39 392.74,122.12 394.16,122.83 395.59,123.51 397.01,124.18 398.44,124.83 399.87,125.45 401.29,126.06 402.72,126.66 404.14,127.24 405.57,127.8 407,128.35 408.42,128.88 409.85,129.4 411.27,129.91 412.7,130.41 414.13,130.89 415.55,131.36 416.98,131.83 418.4,132.28 419.83,132.72 421.26,133.15 422.68,133.57 424.11,133.99 425.53,134.39 426.96,134.79 428.39,135.18 429.81,135.56 431.24,135.93 432.66,136.3 434.09,136.65 435.52,137.01 436.94,137.35 438.37,137.69 439.79,138.02 441.22,138.35 442.65,138.67 444.07,138.98 445.5,139.29 446.92,139.59 448.35,139.89 449.78,140.19 451.2,140.47 452.63,140.76 454.05,141.04 455.48,141.31 456.91,141.58 458.33,141.84 459.76,142.11 461.18,142.36 462.61,142.62 464.04,142.87 465.46,143.11 466.89,143.35 468.31,143.59 469.74,143.83 471.17,144.06 472.59,144.28 474.02,144.51 475.44,144.73 476.87,144.95 478.3,145.16 479.72,145.38 481.15,145.59 482.57,145.79 484,146" stroke="#dc2ad8" stroke-width="2.1" fill="none" stroke-linejoin="round"/>
<path d="M342.13 48.04h1.4v1.4h-1.4zM344.26 59.55h1.4v1.4h-1.4zM347.83 72.1h1.4v1.4h-1.4zM354.96 87.9h1.4v1.4h-1.4zM376.35 111.83h1.4v1.4h-1.4zM412 129.71h1.4v1.4h-1.4zM483.3 145.3h1.4v1.4h-1.4z" fill="#9a1a98" opacity="0.55"/>
<path d="M341.4,20.86 341.69,21.13 341.97,21.7 342.26,22.51 342.54,23.51 342.83,24.68 343.11,25.99 343.4,27.43 343.68,28.97 343.97,30.6 344.25,32.31 344.54,34.08 344.82,35.9 345.11,37.77 345.39,39.66 345.68,41.57 345.96,43.5 346.25,45.43 346.53,47.37 346.82,49.29 347.1,51.21 347.39,53.11 347.67,54.99 347.96,56.84 348.24,58.67 348.53,60.47 349.96,69 351.38,76.63 352.81,83.37 354.23,89.27 355.66,94.42 357.09,98.9 358.51,102.82 359.94,106.24 361.36,109.24 362.79,111.88 364.22,114.21 365.64,116.27 367.07,118.11 368.49,119.75 369.92,121.22 371.35,122.54 372.77,123.74 374.2,124.81 375.62,125.79 377.05,126.69 378.48,127.5 379.9,128.24 381.33,128.93 382.75,129.56 384.18,130.13 385.61,130.67 387.03,131.17 388.46,131.62 389.88,132.05 391.31,132.45 392.74,132.82 394.16,133.17 395.59,133.49 397.01,133.79 398.44,134.08 399.87,134.35 401.29,134.6 402.72,134.84 404.14,135.06 405.57,135.27 407,135.47 408.42,135.66 409.85,135.84 411.27,136.01 412.7,136.17 414.13,136.33 415.55,136.47 416.98,136.61 418.4,136.74 419.83,136.87 421.26,136.99 422.68,137.11 424.11,137.22 425.53,137.32 426.96,137.42 428.39,137.52 429.81,137.61 431.24,137.7 432.66,137.78 434.09,137.87 435.52,137.95 436.94,138.02 438.37,138.09 439.79,138.16 441.22,138.23 442.65,138.3 444.07,138.36 445.5,138.42 446.92,138.48 448.35,138.53 449.78,138.59 451.2,138.64 452.63,138.69 454.05,138.74 455.48,138.79 456.91,138.83 458.33,138.88 459.76,138.92 461.18,138.96 462.61,139 464.04,139.04 465.46,139.08 466.89,139.12 468.31,139.15 469.74,139.19 471.17,139.22 472.59,139.25 474.02,139.29 475.44,139.32 476.87,139.35 478.3,139.38 479.72,139.41 481.15,139.43 482.57,139.46 484,139.49" stroke="#22b6d2" stroke-width="2.1" fill="none" stroke-linejoin="round"/>
<path d="M342.13 23.98h1.4v1.4h-1.4zM344.26 36.13h1.4v1.4h-1.4zM347.83 59.77h1.4v1.4h-1.4zM354.96 93.72h1.4v1.4h-1.4zM376.35 125.99h1.4v1.4h-1.4zM412 135.47h1.4v1.4h-1.4zM483.3 138.79h1.4v1.4h-1.4z" fill="#1a8aa0" opacity="0.55"/>
<path d="M342.83 10.71V20.84M341.73 10.71h2.2M341.73 20.84h2.2" stroke="#22b6d2" stroke-width="0.9" fill="none" opacity="0.7"/><path d="M355.66 68.52V73.89M354.56 68.52h2.2M354.56 73.89h2.2" stroke="#d42a32" stroke-width="0.9" fill="none" opacity="0.7"/><path d="M412.7 115.61V118.59M411.6 115.61h2.2M411.6 118.59h2.2" stroke="#d42a32" stroke-width="0.9" fill="none" opacity="0.7"/><path d="M348.53 87.36V94.75M347.43 87.36h2.2M347.43 94.75h2.2" stroke="#5a2ad6" stroke-width="0.9" fill="none" opacity="0.7"/><path d="M412.7 93.2V98.2M411.6 93.2h2.2M411.6 98.2h2.2" stroke="#5a2ad6" stroke-width="0.9" fill="none" opacity="0.7"/><path d="M484 128.72V131.34M482.9 128.72h2.2M482.9 131.34h2.2" stroke="#5a2ad6" stroke-width="0.9" fill="none" opacity="0.7"/><path d="M377.05 101.78V113.7M375.95 101.78h2.2M375.95 113.7h2.2" stroke="#33dd33" stroke-width="0.9" fill="none" opacity="0.7"/><path d="M412.7 142.07V144.22M411.6 142.07h2.2M411.6 144.22h2.2" stroke="#33dd33" stroke-width="0.9" fill="none" opacity="0.7"/><path d="M377.05 119.78V122.16M375.95 119.78h2.2M375.95 122.16h2.2" stroke="#22b6d2" stroke-width="0.9" fill="none" opacity="0.7"/><path d="M412.7 135.87V137.66M411.6 135.87h2.2M411.6 137.66h2.2" stroke="#22b6d2" stroke-width="0.9" fill="none" opacity="0.7"/><path d="M484 137.66V140.04M482.9 137.66h2.2M482.9 140.04h2.2" stroke="#22b6d2" stroke-width="0.9" fill="none" opacity="0.7"/><path d="M355.66 81.04V87M354.56 81.04h2.2M354.56 87h2.2" stroke="#dc2ad8" stroke-width="0.9" fill="none" opacity="0.7"/>
<rect x="425.2" y="5.2" width="83" height="52.8" fill="#fff" stroke="#505050" stroke-width="1.1"/>
<path d="M429.5 12.5H448.5" stroke="#141414" stroke-width="1.5"/>
<text x="450.8" y="14.8" font-size="6.6" fill="#111111" stroke="#111111" stroke-width="0.12">wild-type VKORC1</text>
<path d="M429.5 20.3H448.5" stroke="#5a2ad6" stroke-width="1.5"/>
<text x="450.8" y="22.6" font-size="6.6" fill="#6a2ae0" stroke="#6a2ae0" stroke-width="0.12">Asp36Gly</text>
<path d="M429.5 28.1H448.5" stroke="#33dd33" stroke-width="1.5"/>
<text x="450.8" y="30.4" font-size="6.6" fill="#3ad83a" stroke="#3ad83a" stroke-width="0.12">Asp36Tyr</text>
<path d="M429.5 35.9H448.5" stroke="#d42a32" stroke-width="1.5"/>
<text x="450.8" y="38.2" font-size="6.6" fill="#d8283a" stroke="#d8283a" stroke-width="0.12">Val45Ala</text>
<path d="M429.5 43.6H448.5" stroke="#dc2ad8" stroke-width="1.5"/>
<text x="450.8" y="45.9" font-size="6.6" fill="#d82ad8" stroke="#d82ad8" stroke-width="0.12">Ser56Phe</text>
<path d="M429.5 51.4H448.5" stroke="#22b6d2" stroke-width="1.5"/>
<text x="450.8" y="53.7" font-size="6.6" fill="#30c8e0" stroke="#30c8e0" stroke-width="0.12">Arg58Gly</text>
<text x="477.6" y="90.9" font-size="11" font-weight="bold" letter-spacing="0.35" fill="#111" stroke="#111" stroke-width="0.15">IC</text>
<text x="489" y="97.9" font-size="7.4" font-weight="bold" letter-spacing="0.25" fill="#111" stroke="#111" stroke-width="0.15">50</text>
<text x="413.55" y="197.7" font-size="11.25" text-anchor="middle" fill="#111" stroke="#111" stroke-width="0.22">[warfarin] (μM)</text>
<text transform="translate(272.3 86.6) rotate(-90)" font-size="10.97" text-anchor="middle" fill="#111" stroke="#111" stroke-width="0.22">% FIX activity</text>
<text transform="translate(285.6 86.8) rotate(-90)" font-size="11.1" text-anchor="middle" fill="#111" stroke="#111" stroke-width="0.22">normalized to 0 μM warfarin</text>
<text x="263.4" y="9" font-size="11" font-weight="bold" fill="#111" stroke="#111" stroke-width="0.35">B</text>
<path d="M77.6 210.2V377.1M106.22 210.2V377.1M134.84 210.2V377.1M163.46 210.2V377.1M192.08 210.2V377.1M220.7 210.2V377.1M249.32 210.2V377.1M48.98 349.28H249.32M48.98 321.47H249.32M48.98 293.65H249.32M48.98 265.84H249.32M48.98 238.02H249.32M48.98 210.2H249.32" stroke="#f0f0f0" stroke-width="1" fill="none"/>
<path d="M63.8 307.56H206" stroke="#cdcdcd" stroke-width="1.2" fill="none"/>
<path d="M48.98 210.2V379.6M46.48 377.1H249.32M45.98 377.1h3M45.98 349.28h3M45.98 321.47h3M45.98 293.65h3M45.98 265.84h3M45.98 238.02h3M45.98 210.2h3M48.98 377.1v3M77.6 377.1v3M106.22 377.1v3M134.84 377.1v3M163.46 377.1v3M192.08 377.1v3M220.7 377.1v3M249.32 377.1v3" stroke="#9a9a9a" stroke-width="1.1" fill="none"/>
<path d="M48.48 370.15h1.5M48.48 363.19h1.5M48.48 356.24h1.5M48.48 342.33h1.5M48.48 335.38h1.5M48.48 328.42h1.5M48.48 314.51h1.5M48.48 307.56h1.5M48.48 300.61h1.5M48.48 286.7h1.5M48.48 279.74h1.5M48.48 272.79h1.5M48.48 258.88h1.5M48.48 251.93h1.5M48.48 244.97h1.5M48.48 231.07h1.5M48.48 224.11h1.5M48.48 217.16h1.5M56.13 376.6v1.5M63.29 376.6v1.5M70.44 376.6v1.5M84.75 376.6v1.5M91.91 376.6v1.5M99.06 376.6v1.5M113.38 376.6v1.5M120.53 376.6v1.5M127.69 376.6v1.5M142 376.6v1.5M149.15 376.6v1.5M156.31 376.6v1.5M170.62 376.6v1.5M177.77 376.6v1.5M184.92 376.6v1.5M199.24 376.6v1.5M206.39 376.6v1.5M213.55 376.6v1.5M227.85 376.6v1.5M235.01 376.6v1.5M242.17 376.6v1.5" stroke="#999" stroke-width="1" fill="none"/>
<g font-size="6.4" fill="#1a1a1a" font-weight="bold" stroke="#1a1a1a" stroke-width="0.12"><text x="44.48" y="379.4" text-anchor="end">0</text><text x="44.48" y="351.58" text-anchor="end">20</text><text x="44.48" y="323.77" text-anchor="end">40</text><text x="44.48" y="295.95" text-anchor="end">60</text><text x="44.48" y="268.14" text-anchor="end">80</text><text x="44.48" y="240.32" text-anchor="end">100</text><text x="44.48" y="212.5" text-anchor="end">120</text><text x="48.98" y="388.7" text-anchor="middle">-0.2</text><text x="77.6" y="388.7" text-anchor="middle">0</text><text x="106.22" y="388.7" text-anchor="middle">0.2</text><text x="134.84" y="388.7" text-anchor="middle">0.4</text><text x="163.46" y="388.7" text-anchor="middle">0.6</text><text x="192.08" y="388.7" text-anchor="middle">0.8</text><text x="220.7" y="388.7" text-anchor="middle">1</text><text x="249.32" y="388.7" text-anchor="middle">1.2</text></g>
<path d="M77.6,237.95 77.89,254.61 78.17,263.79 78.46,270.8 78.74,276.56 79.03,281.45 79.32,285.7 79.6,289.47 79.89,292.84 80.18,295.89 80.46,298.67 80.75,301.22 81.03,303.57 81.32,305.75 81.61,307.77 81.89,309.67 82.18,311.44 82.47,313.11 82.75,314.69 83.04,316.18 83.32,317.58 83.61,318.92 83.9,320.19 84.18,321.4 84.47,322.56 84.75,323.66 86.19,328.52 87.62,332.53 89.05,335.9 90.48,338.79 91.91,341.31 93.34,343.52 94.77,345.48 96.2,347.24 97.63,348.83 99.06,350.27 100.5,351.58 101.93,352.79 103.36,353.9 104.79,354.92 106.22,355.88 107.65,356.77 109.08,357.59 110.51,358.37 111.94,359.1 113.38,359.79 114.81,360.43 116.24,361.04 117.67,361.62 119.1,362.17 120.53,362.69 121.96,363.19 123.39,363.66 124.82,364.11 126.25,364.54 127.68,364.96 129.12,365.35 130.55,365.73 131.98,366.09 133.41,366.44 134.84,366.78 136.27,367.1 137.7,367.41 139.13,367.71 140.56,368 142,368.28 143.43,368.55 144.86,368.81 146.29,369.06 147.72,369.31 149.15,369.54 150.58,369.77 152.01,370 153.44,370.21 154.87,370.42 156.31,370.62 157.74,370.82 159.17,371.01 160.6,371.2 162.03,371.38 163.46,371.56 164.89,371.73 166.32,371.9 167.75,372.07 169.18,372.23 170.62,372.38 172.05,372.54 173.48,372.68 174.91,372.83 176.34,372.97 177.77,373.11 179.2,373.25 180.63,373.38 182.06,373.51 183.49,373.63 184.93,373.76 186.36,373.88 187.79,374 189.22,374.11 190.65,374.23 192.08,374.34 193.51,374.45 194.94,374.56 196.37,374.66 197.8,374.77 199.24,374.87 200.67,374.97 202.1,375.06 203.53,375.16 204.96,375.25 206.39,375.35 207.82,375.44 209.25,375.53 210.68,375.61 212.11,375.7 213.54,375.79 214.98,375.87 216.41,375.95 217.84,376.03 219.27,376.11 220.7,376.19" stroke="#141414" stroke-width="2.1" fill="none" stroke-linejoin="round"/>
<path d="M78.33 280.75h1.4v1.4h-1.4zM80.48 303.98h1.4v1.4h-1.4zM84.05 322.96h1.4v1.4h-1.4zM91.21 340.61h1.4v1.4h-1.4zM112.67 359.09h1.4v1.4h-1.4zM148.45 368.84h1.4v1.4h-1.4zM220 375.49h1.4v1.4h-1.4z" fill="#000" opacity="0.55"/>
<path d="M77.6,238.03 77.89,252.2 78.17,256.68 78.46,259.86 78.74,262.39 79.03,264.52 79.32,266.38 79.6,268.04 79.89,269.53 80.18,270.9 80.46,272.16 80.75,273.34 81.03,274.44 81.32,275.48 81.61,276.46 81.89,277.39 82.18,278.27 82.47,279.12 82.75,279.92 83.04,280.7 83.32,281.44 83.61,282.16 83.9,282.85 84.18,283.51 84.47,284.16 84.75,284.78 86.19,287.64 87.62,290.15 89.05,292.38 90.48,294.4 91.91,296.25 93.34,297.94 94.77,299.52 96.2,300.98 97.63,302.36 99.06,303.65 100.5,304.87 101.93,306.03 103.36,307.12 104.79,308.17 106.22,309.17 107.65,310.13 109.08,311.04 110.51,311.92 111.94,312.77 113.38,313.58 114.81,314.37 116.24,315.13 117.67,315.87 119.1,316.58 120.53,317.26 121.96,317.93 123.39,318.58 124.82,319.21 126.25,319.82 127.68,320.42 129.12,321 130.55,321.56 131.98,322.12 133.41,322.65 134.84,323.18 136.27,323.69 137.7,324.19 139.13,324.68 140.56,325.16 142,325.63 143.43,326.09 144.86,326.54 146.29,326.98 147.72,327.41 149.15,327.83 150.58,328.25 152.01,328.65 153.44,329.05 154.87,329.45 156.31,329.83 157.74,330.21 159.17,330.58 160.6,330.95 162.03,331.31 163.46,331.66 164.89,332.01 166.32,332.35 167.75,332.69 169.18,333.02 170.62,333.35 172.05,333.67 173.48,333.99 174.91,334.3 176.34,334.61 177.77,334.91 179.2,335.21 180.63,335.5 182.06,335.8 183.49,336.08 184.93,336.37 186.36,336.64 187.79,336.92 189.22,337.19 190.65,337.46 192.08,337.73 193.51,337.99 194.94,338.25 196.37,338.5 197.8,338.75 199.24,339 200.67,339.25 202.1,339.49 203.53,339.73 204.96,339.97 206.39,340.21 207.82,340.44 209.25,340.67 210.68,340.9 212.11,341.12 213.54,341.34 214.98,341.56 216.41,341.78 217.84,342 219.27,342.21 220.7,342.42" stroke="#5a2ad6" stroke-width="2.1" fill="none" stroke-linejoin="round"/>
<path d="M78.33 263.82h1.4v1.4h-1.4zM80.48 274.27h1.4v1.4h-1.4zM84.05 284.08h1.4v1.4h-1.4zM91.21 295.55h1.4v1.4h-1.4zM112.67 312.88h1.4v1.4h-1.4zM148.45 327.13h1.4v1.4h-1.4zM220 341.72h1.4v1.4h-1.4z" fill="#3a1a9a" opacity="0.55"/>
<path d="M77.6,244.88 77.89,250.94 78.17,253.9 78.46,256.24 78.74,258.23 79.03,260.01 79.32,261.62 79.6,263.11 79.89,264.5 80.18,265.8 80.46,267.03 80.75,268.21 81.03,269.32 81.32,270.4 81.61,271.43 81.89,272.42 82.18,273.37 82.47,274.3 82.75,275.19 83.04,276.06 83.32,276.91 83.61,277.73 83.9,278.53 84.18,279.31 84.47,280.08 84.75,280.82 86.19,284.31 87.62,287.47 89.05,290.38 90.48,293.07 91.91,295.58 93.34,297.94 94.77,300.17 96.2,302.27 97.63,304.28 99.06,306.18 100.5,308.01 101.93,309.76 103.36,311.43 104.79,313.05 106.22,314.6 107.65,316.1 109.08,317.55 110.51,318.96 111.94,320.31 113.38,321.63 114.81,322.91 116.24,324.15 117.67,325.36 119.1,326.54 120.53,327.68 121.96,328.8 123.39,329.88 124.82,330.95 126.25,331.98 127.68,332.99 129.12,333.99 130.55,334.95 131.98,335.9 133.41,336.83 134.84,337.74 136.27,338.63 137.7,339.5 139.13,340.36 140.56,341.2 142,342.02 143.43,342.83 144.86,343.62 146.29,344.4 147.72,345.17 149.15,345.92 150.58,346.66 152.01,347.39 153.44,348.11 154.87,348.81 156.31,349.5 157.74,350.19 159.17,350.86 160.6,351.52 162.03,352.17 163.46,352.81 164.89,353.45 166.32,354.07 167.75,354.69 169.18,355.29 170.62,355.89 172.05,356.48 173.48,357.06 174.91,357.64 176.34,358.2 177.77,358.76 179.2,359.31 180.63,359.86 182.06,360.4 183.49,360.93 184.93,361.45 186.36,361.97 187.79,362.48 189.22,362.99 190.65,363.49 192.08,363.98 193.51,364.47 194.94,364.95 196.37,365.43 197.8,365.9 199.24,366.37 200.67,366.83 202.1,367.29 203.53,367.74 204.96,368.19 206.39,368.63 207.82,369.07 209.25,369.5 210.68,369.93 212.11,370.35 213.54,370.77 214.98,371.19 216.41,371.6 217.84,372.01 219.27,372.41 220.7,372.81" stroke="#33dd33" stroke-width="2.1" fill="none" stroke-linejoin="round"/>
<path d="M78.33 259.31h1.4v1.4h-1.4zM80.48 269.17h1.4v1.4h-1.4zM84.05 280.12h1.4v1.4h-1.4zM91.21 294.88h1.4v1.4h-1.4zM112.67 320.93h1.4v1.4h-1.4zM148.45 345.22h1.4v1.4h-1.4zM220 372.11h1.4v1.4h-1.4z" fill="#2a9a2a" opacity="0.55"/>
<path d="M77.6,230.78 77.89,233.97 78.17,236.8 78.46,239.44 78.74,241.94 79.03,244.31 79.32,246.58 79.6,248.75 79.89,250.83 80.18,252.83 80.46,254.75 80.75,256.61 81.03,258.4 81.32,260.12 81.61,261.8 81.89,263.41 82.18,264.98 82.47,266.5 82.75,267.97 83.04,269.4 83.32,270.78 83.61,272.13 83.9,273.44 84.18,274.71 84.47,275.95 84.75,277.15 86.19,282.73 87.62,287.67 89.05,292.07 90.48,296.02 91.91,299.6 93.34,302.84 94.77,305.81 96.2,308.52 97.63,311.03 99.06,313.34 100.5,315.48 101.93,317.48 103.36,319.33 104.79,321.07 106.22,322.7 107.65,324.22 109.08,325.66 110.51,327.02 111.94,328.3 113.38,329.51 114.81,330.65 116.24,331.74 117.67,332.78 119.1,333.76 120.53,334.7 121.96,335.59 123.39,336.44 124.82,337.26 126.25,338.04 127.68,338.79 129.12,339.51 130.55,340.2 131.98,340.86 133.41,341.49 134.84,342.11 136.27,342.69 137.7,343.26 139.13,343.81 140.56,344.34 142,344.85 143.43,345.34 144.86,345.82 146.29,346.28 147.72,346.72 149.15,347.16 150.58,347.57 152.01,347.98 153.44,348.37 154.87,348.75 156.31,349.12 157.74,349.48 159.17,349.83 160.6,350.17 162.03,350.5 163.46,350.83 164.89,351.14 166.32,351.44 167.75,351.74 169.18,352.03 170.62,352.31 172.05,352.59 173.48,352.85 174.91,353.11 176.34,353.37 177.77,353.62 179.2,353.86 180.63,354.1 182.06,354.33 183.49,354.56 184.93,354.78 186.36,355 187.79,355.21 189.22,355.42 190.65,355.62 192.08,355.82 193.51,356.01 194.94,356.2 196.37,356.39 197.8,356.57 199.24,356.75 200.67,356.93 202.1,357.1 203.53,357.27 204.96,357.43 206.39,357.6 207.82,357.76 209.25,357.91 210.68,358.07 212.11,358.22 213.54,358.36 214.98,358.51 216.41,358.65 217.84,358.79 219.27,358.93 220.7,359.07" stroke="#d42a32" stroke-width="2.1" fill="none" stroke-linejoin="round"/>
<path d="M78.33 243.61h1.4v1.4h-1.4zM80.48 258.57h1.4v1.4h-1.4zM84.05 276.45h1.4v1.4h-1.4zM91.21 298.9h1.4v1.4h-1.4zM112.67 328.81h1.4v1.4h-1.4zM148.45 346.46h1.4v1.4h-1.4zM220 358.37h1.4v1.4h-1.4z" fill="#9a1a22" opacity="0.55"/>
<path d="M77.6 230.65V242.47M76.5 230.65h2.2M76.5 242.47h2.2" stroke="#d42a32" stroke-width="0.9" fill="none" opacity="0.7"/><path d="M81.18 257.49V263.05M80.08 257.49h2.2M80.08 263.05h2.2" stroke="#d42a32" stroke-width="0.9" fill="none" opacity="0.7"/><path d="M91.91 289.48V295.04M90.81 289.48h2.2M90.81 295.04h2.2" stroke="#d42a32" stroke-width="0.9" fill="none" opacity="0.7"/><path d="M113.38 335.93V340.24M112.28 335.93h2.2M112.28 340.24h2.2" stroke="#d42a32" stroke-width="0.9" fill="none" opacity="0.7"/><path d="M149.15 343.3V347.75M148.05 343.3h2.2M148.05 347.75h2.2" stroke="#d42a32" stroke-width="0.9" fill="none" opacity="0.7"/><path d="M220.7 356.93V359.3M219.6 356.93h2.2M219.6 359.3h2.2" stroke="#d42a32" stroke-width="0.9" fill="none" opacity="0.7"/><path d="M113.38 304.78V312.15M112.28 304.78h2.2M112.28 312.15h2.2" stroke="#33dd33" stroke-width="0.9" fill="none" opacity="0.7"/><path d="M84.75 288.09V296.43M83.66 288.09h2.2M83.66 296.43h2.2" stroke="#33dd33" stroke-width="0.9" fill="none" opacity="0.7"/><path d="M220.7 369.45V372.23M219.6 369.45h2.2M219.6 372.23h2.2" stroke="#33dd33" stroke-width="0.9" fill="none" opacity="0.7"/><path d="M149.15 327.87V333.85M148.05 327.87h2.2M148.05 333.85h2.2" stroke="#5a2ad6" stroke-width="0.9" fill="none" opacity="0.7"/><path d="M220.7 340.24V344.14M219.6 340.24h2.2M219.6 344.14h2.2" stroke="#5a2ad6" stroke-width="0.9" fill="none" opacity="0.7"/><path d="M91.91 286.7V293.65M90.81 286.7h2.2M90.81 293.65h2.2" stroke="#5a2ad6" stroke-width="0.9" fill="none" opacity="0.7"/><path d="M84.75 327.03V330.51M83.66 327.03h2.2M83.66 330.51h2.2" stroke="#141414" stroke-width="0.9" fill="none" opacity="0.7"/><path d="M91.91 340.24V343.03M90.81 340.24h2.2M90.81 343.03h2.2" stroke="#141414" stroke-width="0.9" fill="none" opacity="0.7"/><path d="M113.38 359.02V361.11M112.28 359.02h2.2M112.28 361.11h2.2" stroke="#141414" stroke-width="0.9" fill="none" opacity="0.7"/>
<rect x="159.8" y="215.2" width="84.3" height="36.8" fill="#fff" stroke="#505050" stroke-width="1.1"/>
<path d="M164.5 222.5H183.5" stroke="#141414" stroke-width="1.5"/>
<text x="185.8" y="224.8" font-size="6.6" fill="#111111" stroke="#111111" stroke-width="0.12">wild-type VKORC1</text>
<path d="M164.5 230.3H183.5" stroke="#5a2ad6" stroke-width="1.5"/>
<text x="185.8" y="232.6" font-size="6.6" fill="#6a2ae0" stroke="#6a2ae0" stroke-width="0.12">Ser52Leu</text>
<path d="M164.5 238.1H183.5" stroke="#33dd33" stroke-width="1.5"/>
<text x="185.8" y="240.4" font-size="6.6" fill="#3ad83a" stroke="#3ad83a" stroke-width="0.12">Ser52Trp</text>
<path d="M164.5 245.7H183.5" stroke="#d42a32" stroke-width="1.5"/>
<text x="185.8" y="248" font-size="6.6" fill="#d8283a" stroke="#d8283a" stroke-width="0.12">Val54Leu</text>
<text x="210.8" y="311.8" font-size="11" font-weight="bold" letter-spacing="0.35" fill="#111" stroke="#111" stroke-width="0.15">IC</text>
<text x="222.7" y="318.55" font-size="7.4" font-weight="bold" letter-spacing="0.25" fill="#111" stroke="#111" stroke-width="0.15">50</text>
<text x="149.2" y="404" font-size="11.25" text-anchor="middle" fill="#111" stroke="#111" stroke-width="0.22">[warfarin] (μM)</text>
<text transform="translate(9 293.45) rotate(-90)" font-size="11.1" text-anchor="middle" fill="#111" stroke="#111" stroke-width="0.22">% FIX activity</text>
<text transform="translate(21.8 293.75) rotate(-90)" font-size="11.04" text-anchor="middle" fill="#111" stroke="#111" stroke-width="0.22">normalized to 0 μM warfarin</text>
<text x="0.4" y="215.9" font-size="11" font-weight="bold" fill="#111" stroke="#111" stroke-width="0.35">C</text>
<path d="M342.4 210.2V376.8M371 210.2V376.8M399.6 210.2V376.8M428.2 210.2V376.8M456.8 210.2V376.8M485.4 210.2V376.8M514 210.2V376.8M313.8 349.03H514M313.8 321.27H514M313.8 293.5H514M313.8 265.74H514M313.8 237.97H514M313.8 210.2H514" stroke="#f0f0f0" stroke-width="1" fill="none"/>
<path d="M328.1 307.38H494" stroke="#e6e6e6" stroke-width="1.2" fill="none"/>
<path d="M313.8 210.2V379.3M311.3 376.8H514M310.8 376.8h3M310.8 349.03h3M310.8 321.27h3M310.8 293.5h3M310.8 265.74h3M310.8 237.97h3M310.8 210.2h3M313.8 376.8v3M342.4 376.8v3M371 376.8v3M399.6 376.8v3M428.2 376.8v3M456.8 376.8v3M485.4 376.8v3M514 376.8v3" stroke="#9a9a9a" stroke-width="1.1" fill="none"/>
<path d="M313.3 369.86h1.5M313.3 362.92h1.5M313.3 355.98h1.5M313.3 342.09h1.5M313.3 335.15h1.5M313.3 328.21h1.5M313.3 314.33h1.5M313.3 307.38h1.5M313.3 300.44h1.5M313.3 286.56h1.5M313.3 279.62h1.5M313.3 272.68h1.5M313.3 258.79h1.5M313.3 251.85h1.5M313.3 244.91h1.5M313.3 231.03h1.5M313.3 224.09h1.5M313.3 217.15h1.5M320.95 376.3v1.5M328.1 376.3v1.5M335.25 376.3v1.5M349.55 376.3v1.5M356.7 376.3v1.5M363.85 376.3v1.5M378.15 376.3v1.5M385.3 376.3v1.5M392.45 376.3v1.5M406.75 376.3v1.5M413.9 376.3v1.5M421.05 376.3v1.5M435.35 376.3v1.5M442.5 376.3v1.5M449.65 376.3v1.5M463.95 376.3v1.5M471.1 376.3v1.5M478.25 376.3v1.5M492.55 376.3v1.5M499.7 376.3v1.5M506.85 376.3v1.5" stroke="#999" stroke-width="1" fill="none"/>
<g font-size="6.4" fill="#1a1a1a" font-weight="bold" stroke="#1a1a1a" stroke-width="0.12"><text x="309.3" y="379.1" text-anchor="end">0</text><text x="309.3" y="351.33" text-anchor="end">20</text><text x="309.3" y="323.57" text-anchor="end">40</text><text x="309.3" y="295.8" text-anchor="end">60</text><text x="309.3" y="268.04" text-anchor="end">80</text><text x="309.3" y="240.27" text-anchor="end">100</text><text x="309.3" y="212.5" text-anchor="end">120</text><text x="313.8" y="388.4" text-anchor="middle">-0.2</text><text x="342.4" y="388.4" text-anchor="middle">0</text><text x="371" y="388.4" text-anchor="middle">0.2</text><text x="399.6" y="388.4" text-anchor="middle">0.4</text><text x="428.2" y="388.4" text-anchor="middle">0.6</text><text x="456.8" y="388.4" text-anchor="middle">0.8</text><text x="485.4" y="388.4" text-anchor="middle">1</text><text x="514" y="388.4" text-anchor="middle">1.2</text></g>
<path d="M342.4,237.85 342.69,252 342.97,261.12 343.26,268.39 343.54,274.49 343.83,279.75 344.12,284.36 344.4,288.46 344.69,292.14 344.97,295.48 345.26,298.52 345.55,301.31 345.83,303.88 346.12,306.26 346.4,308.48 346.69,310.54 346.98,312.47 347.26,314.28 347.55,315.99 347.83,317.6 348.12,319.12 348.41,320.55 348.69,321.92 348.98,323.21 349.26,324.45 349.55,325.62 350.98,330.76 352.41,334.95 353.84,338.44 355.27,341.4 356.7,343.94 358.13,346.16 359.56,348.12 360.99,349.85 362.42,351.4 363.85,352.8 365.28,354.07 366.71,355.23 368.14,356.28 369.57,357.26 371,358.15 372.43,358.98 373.86,359.75 375.29,360.47 376.72,361.15 378.15,361.78 379.58,362.37 381.01,362.92 382.44,363.45 383.87,363.94 385.3,364.41 386.73,364.85 388.16,365.28 389.59,365.68 391.02,366.06 392.45,366.42 393.88,366.77 395.31,367.1 396.74,367.42 398.17,367.72 399.6,368.02 401.03,368.3 402.46,368.56 403.89,368.82 405.32,369.07 406.75,369.31 408.18,369.54 409.61,369.76 411.04,369.98 412.47,370.19 413.9,370.39 415.33,370.58 416.76,370.77 418.19,370.95 419.62,371.13 421.05,371.3 422.48,371.46 423.91,371.62 425.34,371.78 426.77,371.93 428.2,372.08 429.63,372.22 431.06,372.36 432.49,372.5 433.92,372.63 435.35,372.76 436.78,372.88 438.21,373 439.64,373.12 441.07,373.24 442.5,373.35 443.93,373.46 445.36,373.57 446.79,373.67 448.22,373.78 449.65,373.88 451.08,373.98 452.51,374.07 453.94,374.17 455.37,374.26 456.8,374.35 458.23,374.43 459.66,374.52 461.09,374.61 462.52,374.69 463.95,374.77 465.38,374.85 466.81,374.93 468.24,375 469.67,375.08 471.1,375.15 472.53,375.22 473.96,375.29 475.39,375.36 476.82,375.43 478.25,375.5 479.68,375.56 481.11,375.63 482.54,375.69 483.97,375.75 485.4,375.81" stroke="#141414" stroke-width="2.1" fill="none" stroke-linejoin="round"/>
<path d="M343.13 279.05h1.4v1.4h-1.4zM345.27 304.39h1.4v1.4h-1.4zM348.85 324.92h1.4v1.4h-1.4zM356 343.24h1.4v1.4h-1.4zM377.45 361.08h1.4v1.4h-1.4zM413.2 369.69h1.4v1.4h-1.4zM484.7 375.11h1.4v1.4h-1.4z" fill="#000" opacity="0.55"/>
<path d="M342.4,254.46 342.69,256.76 342.97,258.16 343.26,259.32 343.54,260.35 343.83,261.29 344.12,262.15 344.4,262.97 344.69,263.73 344.97,264.46 345.26,265.15 345.55,265.82 345.83,266.46 346.12,267.07 346.4,267.66 346.69,268.24 346.98,268.79 347.26,269.33 347.55,269.86 347.83,270.37 348.12,270.87 348.41,271.35 348.69,271.82 348.98,272.29 349.26,272.74 349.55,273.18 350.98,275.26 352.41,277.15 353.84,278.89 355.27,280.51 356.7,282.01 358.13,283.42 359.56,284.75 360.99,286.01 362.42,287.2 363.85,288.33 365.28,289.41 366.71,290.44 368.14,291.42 369.57,292.37 371,293.27 372.43,294.14 373.86,294.98 375.29,295.79 376.72,296.57 378.15,297.32 379.58,298.05 381.01,298.76 382.44,299.44 383.87,300.11 385.3,300.75 386.73,301.37 388.16,301.98 389.59,302.57 391.02,303.14 392.45,303.7 393.88,304.25 395.31,304.78 396.74,305.3 398.17,305.8 399.6,306.29 401.03,306.78 402.46,307.25 403.89,307.7 405.32,308.15 406.75,308.59 408.18,309.02 409.61,309.44 411.04,309.86 412.47,310.26 413.9,310.66 415.33,311.04 416.76,311.42 418.19,311.8 419.62,312.16 421.05,312.52 422.48,312.87 423.91,313.22 425.34,313.56 426.77,313.89 428.2,314.22 429.63,314.54 431.06,314.86 432.49,315.17 433.92,315.47 435.35,315.78 436.78,316.07 438.21,316.36 439.64,316.65 441.07,316.93 442.5,317.21 443.93,317.48 445.36,317.75 446.79,318.02 448.22,318.28 449.65,318.53 451.08,318.79 452.51,319.04 453.94,319.28 455.37,319.53 456.8,319.77 458.23,320 459.66,320.23 461.09,320.46 462.52,320.69 463.95,320.91 465.38,321.13 466.81,321.35 468.24,321.57 469.67,321.78 471.1,321.99 472.53,322.19 473.96,322.4 475.39,322.6 476.82,322.8 478.25,323 479.68,323.19 481.11,323.38 482.54,323.57 483.97,323.76 485.4,323.94" stroke="#5a2ad6" stroke-width="2.1" fill="none" stroke-linejoin="round"/>
<path d="M343.13 260.59h1.4v1.4h-1.4zM345.27 266.07h1.4v1.4h-1.4zM348.85 272.48h1.4v1.4h-1.4zM356 281.31h1.4v1.4h-1.4zM377.45 296.62h1.4v1.4h-1.4zM413.2 309.96h1.4v1.4h-1.4zM484.7 323.24h1.4v1.4h-1.4z" fill="#3a1a9a" opacity="0.55"/>
<path d="M342.4,241.91 342.69,241.93 342.97,241.97 343.26,242.05 343.54,242.17 343.83,242.32 344.12,242.51 344.4,242.73 344.69,242.99 344.97,243.29 345.26,243.62 345.55,243.99 345.83,244.39 346.12,244.83 346.4,245.3 346.69,245.8 346.98,246.34 347.26,246.91 347.55,247.5 347.83,248.13 348.12,248.78 348.41,249.46 348.69,250.17 348.98,250.9 349.26,251.65 349.55,252.43 350.98,256.58 352.41,261.09 353.84,265.79 355.27,270.56 356.7,275.29 358.13,279.88 359.56,284.28 360.99,288.45 362.42,292.36 363.85,296.01 365.28,299.39 366.71,302.52 368.14,305.4 369.57,308.04 371,310.47 372.43,312.7 373.86,314.74 375.29,316.61 376.72,318.33 378.15,319.91 379.58,321.36 381.01,322.69 382.44,323.92 383.87,325.05 385.3,326.1 386.73,327.06 388.16,327.96 389.59,328.79 391.02,329.55 392.45,330.27 393.88,330.93 395.31,331.55 396.74,332.12 398.17,332.66 399.6,333.16 401.03,333.63 402.46,334.08 403.89,334.49 405.32,334.88 406.75,335.24 408.18,335.58 409.61,335.91 411.04,336.21 412.47,336.5 413.9,336.77 415.33,337.03 416.76,337.27 418.19,337.5 419.62,337.72 421.05,337.92 422.48,338.12 423.91,338.31 425.34,338.49 426.77,338.65 428.2,338.81 429.63,338.97 431.06,339.11 432.49,339.25 433.92,339.39 435.35,339.51 436.78,339.64 438.21,339.75 439.64,339.86 441.07,339.97 442.5,340.07 443.93,340.17 445.36,340.26 446.79,340.35 448.22,340.44 449.65,340.52 451.08,340.6 452.51,340.68 453.94,340.76 455.37,340.83 456.8,340.9 458.23,340.96 459.66,341.03 461.09,341.09 462.52,341.15 463.95,341.2 465.38,341.26 466.81,341.31 468.24,341.36 469.67,341.41 471.1,341.46 472.53,341.51 473.96,341.55 475.39,341.6 476.82,341.64 478.25,341.68 479.68,341.72 481.11,341.76 482.54,341.8 483.97,341.83 485.4,341.87" stroke="#33dd33" stroke-width="2.1" fill="none" stroke-linejoin="round"/>
<path d="M343.13 241.62h1.4v1.4h-1.4zM345.27 243.91h1.4v1.4h-1.4zM348.85 251.73h1.4v1.4h-1.4zM356 274.59h1.4v1.4h-1.4zM377.45 319.21h1.4v1.4h-1.4zM413.2 336.07h1.4v1.4h-1.4zM484.7 341.17h1.4v1.4h-1.4z" fill="#2a9a2a" opacity="0.55"/>
<path d="M342.4,223.94 342.69,223.94 342.97,223.94 343.26,223.94 343.54,223.94 343.83,223.95 344.12,223.95 344.4,223.96 344.69,223.97 344.97,223.98 345.26,223.99 345.55,224 345.83,224.02 346.12,224.04 346.4,224.06 346.69,224.08 346.98,224.11 347.26,224.14 347.55,224.17 347.83,224.21 348.12,224.25 348.41,224.29 348.69,224.33 348.98,224.38 349.26,224.43 349.55,224.49 350.98,224.82 352.41,225.25 353.84,225.78 355.27,226.43 356.7,227.18 358.13,228.05 359.56,229.04 360.99,230.13 362.42,231.34 363.85,232.65 365.28,234.05 366.71,235.55 368.14,237.12 369.57,238.77 371,240.48 372.43,242.24 373.86,244.05 375.29,245.88 376.72,247.74 378.15,249.61 379.58,251.48 381.01,253.35 382.44,255.2 383.87,257.04 385.3,258.85 386.73,260.63 388.16,262.37 389.59,264.07 391.02,265.74 392.45,267.35 393.88,268.92 395.31,270.44 396.74,271.92 398.17,273.34 399.6,274.71 401.03,276.03 402.46,277.3 403.89,278.53 405.32,279.7 406.75,280.83 408.18,281.92 409.61,282.96 411.04,283.95 412.47,284.91 413.9,285.83 415.33,286.7 416.76,287.54 418.19,288.35 419.62,289.11 421.05,289.85 422.48,290.56 423.91,291.23 425.34,291.88 426.77,292.5 428.2,293.09 429.63,293.66 431.06,294.2 432.49,294.72 433.92,295.22 435.35,295.7 436.78,296.16 438.21,296.6 439.64,297.02 441.07,297.42 442.5,297.81 443.93,298.18 445.36,298.54 446.79,298.88 448.22,299.21 449.65,299.53 451.08,299.83 452.51,300.12 453.94,300.4 455.37,300.67 456.8,300.93 458.23,301.18 459.66,301.42 461.09,301.66 462.52,301.88 463.95,302.09 465.38,302.3 466.81,302.5 468.24,302.69 469.67,302.88 471.1,303.06 472.53,303.23 473.96,303.4 475.39,303.56 476.82,303.72 478.25,303.87 479.68,304.01 481.11,304.15 482.54,304.29 483.97,304.42 485.4,304.55" stroke="#d42a32" stroke-width="2.1" fill="none" stroke-linejoin="round"/>
<path d="M343.13 223.25h1.4v1.4h-1.4zM345.27 223.33h1.4v1.4h-1.4zM348.85 223.79h1.4v1.4h-1.4zM356 226.48h1.4v1.4h-1.4zM377.45 248.91h1.4v1.4h-1.4zM413.2 285.13h1.4v1.4h-1.4zM484.7 303.85h1.4v1.4h-1.4z" fill="#9a1a22" opacity="0.55"/>
<path d="M343.83 221.31V232.42M342.73 221.31h2.2M342.73 232.42h2.2" stroke="#d42a32" stroke-width="0.9" fill="none" opacity="0.7"/><path d="M345.97 210.34V225.06M344.87 210.34h2.2M344.87 225.06h2.2" stroke="#d42a32" stroke-width="0.9" fill="none" opacity="0.7"/><path d="M349.55 210.34V221.03M348.45 210.34h2.2M348.45 221.03h2.2" stroke="#d42a32" stroke-width="0.9" fill="none" opacity="0.7"/><path d="M356.7 218.81V233.81M355.6 218.81h2.2M355.6 233.81h2.2" stroke="#d42a32" stroke-width="0.9" fill="none" opacity="0.7"/><path d="M378.15 245.05V256.85M377.05 245.05h2.2M377.05 256.85h2.2" stroke="#d42a32" stroke-width="0.9" fill="none" opacity="0.7"/><path d="M413.9 281.28V290.73M412.8 281.28h2.2M412.8 290.73h2.2" stroke="#d42a32" stroke-width="0.9" fill="none" opacity="0.7"/><path d="M485.4 301.28V306.27M484.3 301.28h2.2M484.3 306.27h2.2" stroke="#d42a32" stroke-width="0.9" fill="none" opacity="0.7"/><path d="M349.55 265.74V275.87M348.45 265.74h2.2M348.45 275.87h2.2" stroke="#5a2ad6" stroke-width="0.9" fill="none" opacity="0.7"/><path d="M378.15 292.39V300.3M377.05 292.39h2.2M377.05 300.3h2.2" stroke="#5a2ad6" stroke-width="0.9" fill="none" opacity="0.7"/><path d="M413.9 305.72V311.83M412.8 305.72h2.2M412.8 311.83h2.2" stroke="#5a2ad6" stroke-width="0.9" fill="none" opacity="0.7"/><path d="M485.4 320.99V325.57M484.3 320.99h2.2M484.3 325.57h2.2" stroke="#5a2ad6" stroke-width="0.9" fill="none" opacity="0.7"/><path d="M345.97 229.78V243.52M344.87 229.78h2.2M344.87 243.52h2.2" stroke="#33dd33" stroke-width="0.9" fill="none" opacity="0.7"/><path d="M349.55 238.94V244.91M348.45 238.94h2.2M348.45 244.91h2.2" stroke="#33dd33" stroke-width="0.9" fill="none" opacity="0.7"/><path d="M378.15 311.83V318.63M377.05 311.83h2.2M377.05 318.63h2.2" stroke="#33dd33" stroke-width="0.9" fill="none" opacity="0.7"/><path d="M413.9 333.76V337.65M412.8 333.76h2.2M412.8 337.65h2.2" stroke="#33dd33" stroke-width="0.9" fill="none" opacity="0.7"/><path d="M485.4 339.73V344.17M484.3 339.73h2.2M484.3 344.17h2.2" stroke="#33dd33" stroke-width="0.9" fill="none" opacity="0.7"/>
<rect x="427.3" y="213.3" width="84" height="36.9" fill="#fff" stroke="#505050" stroke-width="1.1"/>
<path d="M431.2 220.7H450.3" stroke="#141414" stroke-width="1.5"/>
<text x="452.5" y="223" font-size="6.6" fill="#111111" stroke="#111111" stroke-width="0.12">wild-type VKORC1</text>
<path d="M431.2 228.4H450.3" stroke="#5a2ad6" stroke-width="1.5"/>
<text x="452.5" y="230.7" font-size="6.6" fill="#6a2ae0" stroke="#6a2ae0" stroke-width="0.12">Trp59Arg</text>
<path d="M431.2 236H450.3" stroke="#33dd33" stroke-width="1.5"/>
<text x="452.5" y="238.3" font-size="6.6" fill="#3ad83a" stroke="#3ad83a" stroke-width="0.12">Trp59Cys</text>
<path d="M431.2 243.7H450.3" stroke="#d42a32" stroke-width="1.5"/>
<text x="452.5" y="246" font-size="6.6" fill="#d8283a" stroke="#d8283a" stroke-width="0.12">Trp59Leu</text>
<text x="498.7" y="310.9" font-size="11" font-weight="bold" letter-spacing="0.35" fill="#111" stroke="#111" stroke-width="0.15">IC</text>
<text x="510.1" y="317.9" font-size="7.4" font-weight="bold" letter-spacing="0.25" fill="#111" stroke="#111" stroke-width="0.15">50</text>
<text x="413.85" y="403.2" font-size="11.25" text-anchor="middle" fill="#111" stroke="#111" stroke-width="0.22">[warfarin] (μM)</text>
<text transform="translate(274.8 292.85) rotate(-90)" font-size="10.65" text-anchor="middle" fill="#111" stroke="#111" stroke-width="0.22">% FIX activity</text>
<text transform="translate(286.6 293.5) rotate(-90)" font-size="11.0" text-anchor="middle" fill="#111" stroke="#111" stroke-width="0.22">normalized to 0 μM warfarin</text>
<text x="263.3" y="215.5" font-size="11" font-weight="bold" fill="#111" stroke="#111" stroke-width="0.35">D</text>
<path d="M77.7 423.3V590.3M106.3 423.3V590.3M134.9 423.3V590.3M163.5 423.3V590.3M192.1 423.3V590.3M220.7 423.3V590.3M249.3 423.3V590.3M49.1 562.47H249.3M49.1 534.63H249.3M49.1 506.8H249.3M49.1 478.96H249.3M49.1 451.13H249.3M49.1 423.3H249.3" stroke="#f0f0f0" stroke-width="1" fill="none"/>
<path d="M63.1 520.71H230" stroke="#cdcdcd" stroke-width="1.2" fill="none"/>
<path d="M49.1 423.3V592.8M46.6 590.3H249.3M46.1 590.3h3M46.1 562.47h3M46.1 534.63h3M46.1 506.8h3M46.1 478.96h3M46.1 451.13h3M46.1 423.3h3M49.1 590.3v3M77.7 590.3v3M106.3 590.3v3M134.9 590.3v3M163.5 590.3v3M192.1 590.3v3M220.7 590.3v3M249.3 590.3v3" stroke="#9a9a9a" stroke-width="1.1" fill="none"/>
<path d="M48.6 583.34h1.5M48.6 576.38h1.5M48.6 569.42h1.5M48.6 555.51h1.5M48.6 548.55h1.5M48.6 541.59h1.5M48.6 527.67h1.5M48.6 520.71h1.5M48.6 513.76h1.5M48.6 499.84h1.5M48.6 492.88h1.5M48.6 485.92h1.5M48.6 472.01h1.5M48.6 465.05h1.5M48.6 458.09h1.5M48.6 444.17h1.5M48.6 437.21h1.5M48.6 430.25h1.5M56.25 589.8v1.5M63.4 589.8v1.5M70.55 589.8v1.5M84.85 589.8v1.5M92 589.8v1.5M99.15 589.8v1.5M113.45 589.8v1.5M120.6 589.8v1.5M127.75 589.8v1.5M142.05 589.8v1.5M149.2 589.8v1.5M156.35 589.8v1.5M170.65 589.8v1.5M177.8 589.8v1.5M184.95 589.8v1.5M199.25 589.8v1.5M206.4 589.8v1.5M213.55 589.8v1.5M227.85 589.8v1.5M235 589.8v1.5M242.15 589.8v1.5" stroke="#999" stroke-width="1" fill="none"/>
<g font-size="6.4" fill="#1a1a1a" font-weight="bold" stroke="#1a1a1a" stroke-width="0.12"><text x="44.6" y="592.6" text-anchor="end">0</text><text x="44.6" y="564.77" text-anchor="end">20</text><text x="44.6" y="536.93" text-anchor="end">40</text><text x="44.6" y="509.1" text-anchor="end">60</text><text x="44.6" y="481.26" text-anchor="end">80</text><text x="44.6" y="453.43" text-anchor="end">100</text><text x="44.6" y="425.6" text-anchor="end">120</text><text x="49.1" y="601.9" text-anchor="middle">-0.2</text><text x="77.7" y="601.9" text-anchor="middle">0</text><text x="106.3" y="601.9" text-anchor="middle">0.2</text><text x="134.9" y="601.9" text-anchor="middle">0.4</text><text x="163.5" y="601.9" text-anchor="middle">0.6</text><text x="192.1" y="601.9" text-anchor="middle">0.8</text><text x="220.7" y="601.9" text-anchor="middle">1</text><text x="249.3" y="601.9" text-anchor="middle">1.2</text></g>
<path d="M77.7,451.08 77.99,460.09 78.27,465.38 78.56,469.65 78.84,473.33 79.13,476.59 79.42,479.54 79.7,482.24 79.99,484.73 80.27,487.05 80.56,489.22 80.85,491.27 81.13,493.2 81.42,495.02 81.7,496.76 81.99,498.42 82.28,500 82.56,501.51 82.85,502.96 83.13,504.36 83.42,505.7 83.71,506.99 83.99,508.23 84.28,509.43 84.56,510.59 84.85,511.71 86.28,516.83 87.71,521.27 89.14,525.19 90.57,528.67 92,531.81 93.43,534.65 94.86,537.25 96.29,539.64 97.72,541.84 99.15,543.88 100.58,545.77 102.01,547.54 103.44,549.2 104.87,550.76 106.3,552.23 107.73,553.62 109.16,554.93 110.59,556.17 112.02,557.35 113.45,558.48 114.88,559.55 116.31,560.57 117.74,561.54 119.17,562.48 120.6,563.37 122.03,564.23 123.46,565.06 124.89,565.85 126.32,566.61 127.75,567.35 129.18,568.06 130.61,568.74 132.04,569.4 133.47,570.04 134.9,570.65 136.33,571.25 137.76,571.83 139.19,572.39 140.62,572.93 142.05,573.46 143.48,573.97 144.91,574.47 146.34,574.95 147.77,575.42 149.2,575.88 150.63,576.32 152.06,576.76 153.49,577.18 154.92,577.59 156.35,577.99 157.78,578.38 159.21,578.76 160.64,579.14 162.07,579.5 163.5,579.86 164.93,580.2 166.36,580.54 167.79,580.87 169.22,581.2 170.65,581.52 172.08,581.83 173.51,582.13 174.94,582.43 176.37,582.72 177.8,583.01 179.23,583.29 180.66,583.56 182.09,583.83 183.52,584.09 184.95,584.35 186.38,584.61 187.81,584.86 189.24,585.1 190.67,585.34 192.1,585.58 193.53,585.81 194.96,586.04 196.39,586.26 197.82,586.48 199.25,586.7 200.68,586.91 202.11,587.12 203.54,587.32 204.97,587.52 206.4,587.72 207.83,587.92 209.26,588.11 210.69,588.3 212.12,588.49 213.55,588.67 214.98,588.85 216.41,589.03 217.84,589.2 219.27,589.38 220.7,589.55" stroke="#141414" stroke-width="2.1" fill="none" stroke-linejoin="round"/>
<path d="M78.43 475.89h1.4v1.4h-1.4zM80.58 493.42h1.4v1.4h-1.4zM84.15 511.01h1.4v1.4h-1.4zM91.3 531.11h1.4v1.4h-1.4zM112.75 557.78h1.4v1.4h-1.4zM148.5 575.18h1.4v1.4h-1.4zM220 588.85h1.4v1.4h-1.4z" fill="#000" opacity="0.55"/>
<path d="M77.7,438.06 77.99,438.43 78.27,438.98 78.56,439.63 78.84,440.35 79.13,441.13 79.42,441.94 79.7,442.79 79.99,443.67 80.27,444.57 80.56,445.49 80.85,446.44 81.13,447.39 81.42,448.36 81.7,449.34 81.99,450.32 82.28,451.31 82.56,452.31 82.85,453.31 83.13,454.31 83.42,455.32 83.71,456.32 83.99,457.32 84.28,458.32 84.56,459.32 84.85,460.32 86.28,465.23 87.71,469.99 89.14,474.58 90.57,478.96 92,483.14 93.43,487.11 94.86,490.86 96.29,494.42 97.72,497.78 99.15,500.96 100.58,503.96 102.01,506.8 103.44,509.48 104.87,512.02 106.3,514.41 107.73,516.68 109.16,518.83 110.59,520.87 112.02,522.8 113.45,524.63 114.88,526.37 116.31,528.02 117.74,529.6 119.17,531.09 120.6,532.52 122.03,533.87 123.46,535.17 124.89,536.41 126.32,537.59 127.75,538.72 129.18,539.8 130.61,540.83 132.04,541.82 133.47,542.77 134.9,543.68 136.33,544.55 137.76,545.39 139.19,546.2 140.62,546.97 142.05,547.71 143.48,548.43 144.91,549.12 146.34,549.79 147.77,550.43 149.2,551.05 150.63,551.64 152.06,552.22 153.49,552.77 154.92,553.31 156.35,553.83 157.78,554.33 159.21,554.82 160.64,555.29 162.07,555.74 163.5,556.19 164.93,556.61 166.36,557.03 167.79,557.43 169.22,557.82 170.65,558.2 172.08,558.57 173.51,558.92 174.94,559.27 176.37,559.61 177.8,559.94 179.23,560.25 180.66,560.56 182.09,560.87 183.52,561.16 184.95,561.45 186.38,561.72 187.81,562 189.24,562.26 190.67,562.52 192.1,562.77 193.53,563.01 194.96,563.25 196.39,563.49 197.82,563.71 199.25,563.94 200.68,564.15 202.11,564.36 203.54,564.57 204.97,564.77 206.4,564.97 207.83,565.16 209.26,565.35 210.69,565.54 212.12,565.72 213.55,565.9 214.98,566.07 216.41,566.24 217.84,566.4 219.27,566.57 220.7,566.72" stroke="#5a2ad6" stroke-width="2.1" fill="none" stroke-linejoin="round"/>
<path d="M78.43 440.43h1.4v1.4h-1.4zM80.58 447.17h1.4v1.4h-1.4zM84.15 459.62h1.4v1.4h-1.4zM91.3 482.44h1.4v1.4h-1.4zM112.75 523.93h1.4v1.4h-1.4zM148.5 550.35h1.4v1.4h-1.4zM220 566.02h1.4v1.4h-1.4z" fill="#3a1a9a" opacity="0.55"/>
<path d="M77.7,471.98 77.99,476.61 78.27,478.15 78.56,479.27 78.84,480.17 79.13,480.95 79.42,481.63 79.7,482.25 79.99,482.81 80.27,483.33 80.56,483.82 80.85,484.27 81.13,484.7 81.42,485.11 81.7,485.49 81.99,485.86 82.28,486.21 82.56,486.55 82.85,486.88 83.13,487.19 83.42,487.5 83.71,487.79 83.99,488.08 84.28,488.35 84.56,488.62 84.85,488.88 86.28,490.1 87.71,491.18 89.14,492.16 90.57,493.06 92,493.89 93.43,494.67 94.86,495.4 96.29,496.09 97.72,496.74 99.15,497.36 100.58,497.95 102.01,498.51 103.44,499.06 104.87,499.57 106.3,500.07 107.73,500.56 109.16,501.02 110.59,501.47 112.02,501.91 113.45,502.33 114.88,502.74 116.31,503.14 117.74,503.53 119.17,503.9 120.6,504.27 122.03,504.63 123.46,504.98 124.89,505.32 126.32,505.66 127.75,505.98 129.18,506.3 130.61,506.62 132.04,506.92 133.47,507.22 134.9,507.52 136.33,507.81 137.76,508.09 139.19,508.37 140.62,508.64 142.05,508.91 143.48,509.17 144.91,509.43 146.34,509.69 147.77,509.94 149.2,510.18 150.63,510.43 152.06,510.67 153.49,510.9 154.92,511.13 156.35,511.36 157.78,511.59 159.21,511.81 160.64,512.03 162.07,512.24 163.5,512.46 164.93,512.67 166.36,512.88 167.79,513.08 169.22,513.28 170.65,513.48 172.08,513.68 173.51,513.88 174.94,514.07 176.37,514.26 177.8,514.45 179.23,514.63 180.66,514.82 182.09,515 183.52,515.18 184.95,515.36 186.38,515.53 187.81,515.71 189.24,515.88 190.67,516.05 192.1,516.22 193.53,516.38 194.96,516.55 196.39,516.71 197.82,516.87 199.25,517.03 200.68,517.19 202.11,517.35 203.54,517.51 204.97,517.66 206.4,517.81 207.83,517.96 209.26,518.11 210.69,518.26 212.12,518.41 213.55,518.56 214.98,518.7 216.41,518.85 217.84,518.99 219.27,519.13 220.7,519.27" stroke="#33dd33" stroke-width="2.1" fill="none" stroke-linejoin="round"/>
<path d="M78.43 480.25h1.4v1.4h-1.4zM80.58 484.2h1.4v1.4h-1.4zM84.15 488.18h1.4v1.4h-1.4zM91.3 493.19h1.4v1.4h-1.4zM112.75 501.63h1.4v1.4h-1.4zM148.5 509.48h1.4v1.4h-1.4zM220 518.57h1.4v1.4h-1.4z" fill="#2a9a2a" opacity="0.55"/>
<path d="M77.7,450.5 77.99,451.89 78.27,453.49 78.56,455.15 78.84,456.84 79.13,458.54 79.42,460.23 79.7,461.91 79.99,463.58 80.27,465.23 80.56,466.85 80.85,468.46 81.13,470.03 81.42,471.59 81.7,473.11 81.99,474.61 82.28,476.09 82.56,477.53 82.85,478.95 83.13,480.34 83.42,481.71 83.71,483.05 83.99,484.36 84.28,485.65 84.56,486.91 84.85,488.15 86.28,493.99 87.71,499.29 89.14,504.1 90.57,508.48 92,512.47 93.43,516.13 94.86,519.48 96.29,522.57 97.72,525.41 99.15,528.04 100.58,530.48 102.01,532.74 103.44,534.85 104.87,536.82 106.3,538.65 107.73,540.37 109.16,541.99 110.59,543.5 112.02,544.93 113.45,546.27 114.88,547.54 116.31,548.74 117.74,549.88 119.17,550.96 120.6,551.98 122.03,552.95 123.46,553.87 124.89,554.75 126.32,555.59 127.75,556.39 129.18,557.16 130.61,557.89 132.04,558.59 133.47,559.26 134.9,559.9 136.33,560.52 137.76,561.11 139.19,561.68 140.62,562.23 142.05,562.75 143.48,563.26 144.91,563.75 146.34,564.22 147.77,564.67 149.2,565.11 150.63,565.53 152.06,565.94 153.49,566.33 154.92,566.71 156.35,567.08 157.78,567.44 159.21,567.79 160.64,568.12 162.07,568.45 163.5,568.77 164.93,569.07 166.36,569.37 167.79,569.66 169.22,569.94 170.65,570.21 172.08,570.48 173.51,570.73 174.94,570.99 176.37,571.23 177.8,571.47 179.23,571.7 180.66,571.93 182.09,572.15 183.52,572.36 184.95,572.57 186.38,572.77 187.81,572.97 189.24,573.17 190.67,573.36 192.1,573.54 193.53,573.72 194.96,573.9 196.39,574.07 197.82,574.24 199.25,574.4 200.68,574.57 202.11,574.72 203.54,574.88 204.97,575.03 206.4,575.18 207.83,575.32 209.26,575.46 210.69,575.6 212.12,575.74 213.55,575.87 214.98,576 216.41,576.13 217.84,576.25 219.27,576.38 220.7,576.5" stroke="#d42a32" stroke-width="2.1" fill="none" stroke-linejoin="round"/>
<path d="M78.43 457.84h1.4v1.4h-1.4zM80.58 470.11h1.4v1.4h-1.4zM84.15 487.45h1.4v1.4h-1.4zM91.3 511.77h1.4v1.4h-1.4zM112.75 545.57h1.4v1.4h-1.4zM148.5 564.41h1.4v1.4h-1.4zM220 575.8h1.4v1.4h-1.4z" fill="#9a1a22" opacity="0.55"/>
<path d="M77.7,451.13 77.99,477.73 78.27,485.15 78.56,489.64 78.84,492.81 79.13,495.23 79.42,497.16 79.7,498.75 79.99,500.1 80.27,501.26 80.56,502.27 80.85,503.17 81.13,503.97 81.42,504.69 81.7,505.34 81.99,505.94 82.28,506.49 82.56,506.99 82.85,507.46 83.13,507.89 83.42,508.3 83.71,508.68 83.99,509.03 84.28,509.37 84.56,509.68 84.85,509.98 86.28,511.27 87.71,512.28 89.14,513.12 90.57,513.82 92,514.42 93.43,514.93 94.86,515.39 96.29,515.79 97.72,516.15 99.15,516.48 100.58,516.77 102.01,517.04 103.44,517.29 104.87,517.52 106.3,517.73 107.73,517.92 109.16,518.11 110.59,518.28 112.02,518.44 113.45,518.59 114.88,518.73 116.31,518.86 117.74,518.99 119.17,519.11 120.6,519.22 122.03,519.33 123.46,519.43 124.89,519.53 126.32,519.62 127.75,519.71 129.18,519.8 130.61,519.88 132.04,519.96 133.47,520.04 134.9,520.11 136.33,520.18 137.76,520.25 139.19,520.31 140.62,520.38 142.05,520.44 143.48,520.5 144.91,520.56 146.34,520.61 147.77,520.66 149.2,520.72 150.63,520.77 152.06,520.82 153.49,520.86 154.92,520.91 156.35,520.95 157.78,521 159.21,521.04 160.64,521.08 162.07,521.12 163.5,521.16 164.93,521.2 166.36,521.24 167.79,521.27 169.22,521.31 170.65,521.34 172.08,521.38 173.51,521.41 174.94,521.44 176.37,521.47 177.8,521.5 179.23,521.53 180.66,521.56 182.09,521.59 183.52,521.62 184.95,521.65 186.38,521.68 187.81,521.7 189.24,521.73 190.67,521.75 192.1,521.78 193.53,521.8 194.96,521.83 196.39,521.85 197.82,521.88 199.25,521.9 200.68,521.92 202.11,521.94 203.54,521.96 204.97,521.99 206.4,522.01 207.83,522.03 209.26,522.05 210.69,522.07 212.12,522.09 213.55,522.11 214.98,522.12 216.41,522.14 217.84,522.16 219.27,522.18 220.7,522.2" stroke="#dc2ad8" stroke-width="2.1" fill="none" stroke-linejoin="round"/>
<path d="M78.43 494.53h1.4v1.4h-1.4zM80.58 503.64h1.4v1.4h-1.4zM84.15 509.28h1.4v1.4h-1.4zM91.3 513.72h1.4v1.4h-1.4zM112.75 517.89h1.4v1.4h-1.4zM148.5 520.02h1.4v1.4h-1.4zM220 521.5h1.4v1.4h-1.4z" fill="#9a1a98" opacity="0.55"/>
<path d="M77.7 448.35V459.48M76.6 448.35h2.2M76.6 459.48h2.2" stroke="#dc2ad8" stroke-width="0.9" fill="none" opacity="0.7"/><path d="M79.13 487.31V498.45M78.03 487.31h2.2M78.03 498.45h2.2" stroke="#dc2ad8" stroke-width="0.9" fill="none" opacity="0.7"/><path d="M79.13 470.61V481.75M78.03 470.61h2.2M78.03 481.75h2.2" stroke="#dc2ad8" stroke-width="0.9" fill="none" opacity="0.7"/><path d="M81.28 463.66V473.4M80.18 463.66h2.2M80.18 473.4h2.2" stroke="#d42a32" stroke-width="0.9" fill="none" opacity="0.7"/><path d="M84.85 483.14V491.49M83.75 483.14h2.2M83.75 491.49h2.2" stroke="#d42a32" stroke-width="0.9" fill="none" opacity="0.7"/><path d="M81.28 446.95V455.31M80.18 446.95h2.2M80.18 455.31h2.2" stroke="#5a2ad6" stroke-width="0.9" fill="none" opacity="0.7"/><path d="M84.85 460.87V467.83M83.75 460.87h2.2M83.75 467.83h2.2" stroke="#5a2ad6" stroke-width="0.9" fill="none" opacity="0.7"/><path d="M92 483.14V490.1M90.9 483.14h2.2M90.9 490.1h2.2" stroke="#5a2ad6" stroke-width="0.9" fill="none" opacity="0.7"/><path d="M79.13 422.46V424.41M78.03 422.46h2.2M78.03 424.41h2.2" stroke="#5a2ad6" stroke-width="0.9" fill="none" opacity="0.7"/><path d="M79.13 422.74V424.13M78.03 422.74h2.2M78.03 424.13h2.2" stroke="#5a2ad6" stroke-width="0.9" fill="none" opacity="0.7"/><path d="M113.45 525.59V536.02M112.35 525.59h2.2M112.35 536.02h2.2" stroke="#5a2ad6" stroke-width="0.9" fill="none" opacity="0.7"/><path d="M149.2 544.23V550.22M148.1 544.23h2.2M148.1 550.22h2.2" stroke="#5a2ad6" stroke-width="0.9" fill="none" opacity="0.7"/><path d="M220.7 567.34V570.12M219.6 567.34h2.2M219.6 570.12h2.2" stroke="#5a2ad6" stroke-width="0.9" fill="none" opacity="0.7"/><path d="M113.45 486.48V493.86M112.35 486.48h2.2M112.35 493.86h2.2" stroke="#33dd33" stroke-width="0.9" fill="none" opacity="0.7"/><path d="M149.2 508.89V517.93M148.1 508.89h2.2M148.1 517.93h2.2" stroke="#33dd33" stroke-width="0.9" fill="none" opacity="0.7"/><path d="M220.7 514.87V518.35M219.6 514.87h2.2M219.6 518.35h2.2" stroke="#33dd33" stroke-width="0.9" fill="none" opacity="0.7"/><path d="M149.2 517.93V523.08M148.1 517.93h2.2M148.1 523.08h2.2" stroke="#dc2ad8" stroke-width="0.9" fill="none" opacity="0.7"/><path d="M220.7 521.41V524.19M219.6 521.41h2.2M219.6 524.19h2.2" stroke="#dc2ad8" stroke-width="0.9" fill="none" opacity="0.7"/><path d="M92 504.15V511.67M90.9 504.15h2.2M90.9 511.67h2.2" stroke="#d42a32" stroke-width="0.9" fill="none" opacity="0.7"/><path d="M113.45 550.22V554.67M112.35 550.22h2.2M112.35 554.67h2.2" stroke="#d42a32" stroke-width="0.9" fill="none" opacity="0.7"/><path d="M113.45 557.73V562.74M112.35 557.73h2.2M112.35 562.74h2.2" stroke="#141414" stroke-width="0.9" fill="none" opacity="0.7"/><path d="M149.2 574.02V580.42M148.1 574.02h2.2M148.1 580.42h2.2" stroke="#141414" stroke-width="0.9" fill="none" opacity="0.7"/><path d="M220.7 586.12V588.21M219.6 586.12h2.2M219.6 588.21h2.2" stroke="#141414" stroke-width="0.9" fill="none" opacity="0.7"/><path d="M92 525.59V531.15M90.9 525.59h2.2M90.9 531.15h2.2" stroke="#141414" stroke-width="0.9" fill="none" opacity="0.7"/>
<rect x="162.3" y="427" width="85" height="45.1" fill="#fff" stroke="#505050" stroke-width="1.1"/>
<path d="M166.3 434.1H185.2" stroke="#141414" stroke-width="1.5"/>
<text x="187.5" y="436.4" font-size="6.75" fill="#111111" stroke="#111111" stroke-width="0.12">wild-type VKORC1</text>
<path d="M166.3 441.8H185.2" stroke="#5a2ad6" stroke-width="1.5"/>
<text x="187.5" y="444.1" font-size="6.75" fill="#6a2ae0" stroke="#6a2ae0" stroke-width="0.12">Ile123Asn</text>
<path d="M166.3 449.6H185.2" stroke="#33dd33" stroke-width="1.5"/>
<text x="187.5" y="451.9" font-size="6.75" fill="#3ad83a" stroke="#3ad83a" stroke-width="0.12">Leu128Arg</text>
<path d="M166.3 457.3H185.2" stroke="#d42a32" stroke-width="1.5"/>
<text x="187.5" y="459.6" font-size="6.75" fill="#d8283a" stroke="#d8283a" stroke-width="0.12">Tyr139His</text>
<path d="M166.3 465H185.2" stroke="#dc2ad8" stroke-width="1.5"/>
<text x="187.5" y="467.3" font-size="6.75" fill="#d82ad8" stroke="#d82ad8" stroke-width="0.12">TYA&gt;LIV</text>
<text x="232.2" y="525" font-size="11" font-weight="bold" letter-spacing="0.35" fill="#111" stroke="#111" stroke-width="0.15">IC</text>
<text x="243.6" y="530.6" font-size="7.4" font-weight="bold" letter-spacing="0.25" fill="#111" stroke="#111" stroke-width="0.15">50</text>
<text x="149.4" y="616.9" font-size="11.25" text-anchor="middle" fill="#111" stroke="#111" stroke-width="0.22">[warfarin] (μM)</text>
<text transform="translate(9 506.5) rotate(-90)" font-size="11.07" text-anchor="middle" fill="#111" stroke="#111" stroke-width="0.22">% FIX activity</text>
<text transform="translate(21.9 506.7) rotate(-90)" font-size="11.0" text-anchor="middle" fill="#111" stroke="#111" stroke-width="0.22">normalized to 0 μM warfarin</text>
<text x="0.3" y="427.4" font-size="11" font-weight="bold" fill="#111" stroke="#111" stroke-width="0.35">E</text>
<path d="M342.7 421.8V589.1M371.36 421.8V589.1M400.02 421.8V589.1M428.68 421.8V589.1M457.34 421.8V589.1M486 421.8V589.1M514.66 421.8V589.1M314.04 565.2H514.66M314.04 541.3H514.66M314.04 517.4H514.66M314.04 493.5H514.66M314.04 469.6H514.66M314.04 445.7H514.66M314.04 421.8H514.66" stroke="#f0f0f0" stroke-width="1" fill="none"/>
<path d="M328.1 505.45H471.5" stroke="#cdcdcd" stroke-width="1.2" fill="none"/>
<path d="M314.04 421.8V591.6M311.54 589.1H514.66M311.04 589.1h3M311.04 565.2h3M311.04 541.3h3M311.04 517.4h3M311.04 493.5h3M311.04 469.6h3M311.04 445.7h3M311.04 421.8h3M314.04 589.1v3M342.7 589.1v3M371.36 589.1v3M400.02 589.1v3M428.68 589.1v3M457.34 589.1v3M486 589.1v3M514.66 589.1v3" stroke="#9a9a9a" stroke-width="1.1" fill="none"/>
<path d="M313.54 583.12h1.5M313.54 577.15h1.5M313.54 571.18h1.5M313.54 559.23h1.5M313.54 553.25h1.5M313.54 547.28h1.5M313.54 535.33h1.5M313.54 529.35h1.5M313.54 523.38h1.5M313.54 511.43h1.5M313.54 505.45h1.5M313.54 499.48h1.5M313.54 487.53h1.5M313.54 481.55h1.5M313.54 475.58h1.5M313.54 463.63h1.5M313.54 457.65h1.5M313.54 451.68h1.5M313.54 439.73h1.5M313.54 433.75h1.5M313.54 427.78h1.5M321.2 588.6v1.5M328.37 588.6v1.5M335.53 588.6v1.5M349.87 588.6v1.5M357.03 588.6v1.5M364.19 588.6v1.5M378.52 588.6v1.5M385.69 588.6v1.5M392.86 588.6v1.5M407.19 588.6v1.5M414.35 588.6v1.5M421.51 588.6v1.5M435.85 588.6v1.5M443.01 588.6v1.5M450.18 588.6v1.5M464.5 588.6v1.5M471.67 588.6v1.5M478.84 588.6v1.5M493.17 588.6v1.5M500.33 588.6v1.5M507.5 588.6v1.5" stroke="#999" stroke-width="1" fill="none"/>
<g font-size="6.4" fill="#1a1a1a" font-weight="bold" stroke="#1a1a1a" stroke-width="0.12"><text x="309.54" y="591.4" text-anchor="end">-20</text><text x="309.54" y="567.5" text-anchor="end">0</text><text x="309.54" y="543.6" text-anchor="end">20</text><text x="309.54" y="519.7" text-anchor="end">40</text><text x="309.54" y="495.8" text-anchor="end">60</text><text x="309.54" y="471.9" text-anchor="end">80</text><text x="309.54" y="448" text-anchor="end">100</text><text x="309.54" y="424.1" text-anchor="end">120</text><text x="314.04" y="600.7" text-anchor="middle">-0.2</text><text x="342.7" y="600.7" text-anchor="middle">0</text><text x="371.36" y="600.7" text-anchor="middle">0.2</text><text x="400.02" y="600.7" text-anchor="middle">0.4</text><text x="428.68" y="600.7" text-anchor="middle">0.6</text><text x="457.34" y="600.7" text-anchor="middle">0.8</text><text x="486" y="600.7" text-anchor="middle">1</text><text x="514.66" y="600.7" text-anchor="middle">1.2</text></g>
<path d="M342.7,445.67 342.99,459.9 343.27,468.04 343.56,474.29 343.85,479.43 344.13,483.8 344.42,487.6 344.71,490.95 344.99,493.95 345.28,496.65 345.57,499.12 345.85,501.37 346.14,503.45 346.43,505.37 346.71,507.15 347,508.81 347.29,510.37 347.57,511.83 347.86,513.21 348.15,514.5 348.43,515.73 348.72,516.89 349.01,517.99 349.29,519.04 349.58,520.04 349.87,520.99 351.3,525.18 352.73,528.6 354.16,531.47 355.6,533.92 357.03,536.04 358.46,537.89 359.9,539.54 361.33,541 362.76,542.32 364.19,543.51 365.63,544.59 367.06,545.59 368.49,546.5 369.93,547.34 371.36,548.12 372.79,548.84 374.23,549.52 375.66,550.15 377.09,550.74 378.52,551.29 379.96,551.82 381.39,552.31 382.82,552.77 384.26,553.22 385.69,553.64 387.12,554.03 388.56,554.41 389.99,554.77 391.42,555.12 392.86,555.45 394.29,555.76 395.72,556.06 397.15,556.35 398.59,556.63 400.02,556.89 401.45,557.15 402.89,557.4 404.32,557.63 405.75,557.86 407.19,558.08 408.62,558.3 410.05,558.5 411.48,558.7 412.92,558.89 414.35,559.08 415.78,559.26 417.22,559.43 418.65,559.6 420.08,559.77 421.51,559.93 422.95,560.08 424.38,560.23 425.81,560.38 427.25,560.52 428.68,560.66 430.11,560.79 431.55,560.93 432.98,561.05 434.41,561.18 435.85,561.3 437.28,561.42 438.71,561.53 440.14,561.65 441.58,561.76 443.01,561.86 444.44,561.97 445.88,562.07 447.31,562.17 448.74,562.27 450.18,562.37 451.61,562.46 453.04,562.55 454.47,562.64 455.91,562.73 457.34,562.82 458.77,562.9 460.21,562.98 461.64,563.07 463.07,563.15 464.5,563.22 465.94,563.3 467.37,563.38 468.8,563.45 470.24,563.52 471.67,563.59 473.1,563.66 474.54,563.73 475.97,563.8 477.4,563.86 478.84,563.93 480.27,563.99 481.7,564.06 483.13,564.12 484.57,564.18 486,564.24" stroke="#141414" stroke-width="2.1" fill="none" stroke-linejoin="round"/>
<path d="M343.43 483.1h1.4v1.4h-1.4zM345.58 503.72h1.4v1.4h-1.4zM349.17 520.29h1.4v1.4h-1.4zM356.33 535.34h1.4v1.4h-1.4zM377.82 550.59h1.4v1.4h-1.4zM413.65 558.38h1.4v1.4h-1.4zM485.3 563.54h1.4v1.4h-1.4z" fill="#000" opacity="0.55"/>
<path d="M342.7,463.67 342.99,475.33 343.27,478.78 343.56,481.23 343.85,483.2 344.13,484.88 344.42,486.35 344.71,487.66 344.99,488.86 345.28,489.97 345.57,491 345.85,491.96 346.14,492.86 346.43,493.72 346.71,494.54 347,495.32 347.29,496.06 347.57,496.77 347.86,497.46 348.15,498.12 348.43,498.76 348.72,499.38 349.01,499.98 349.29,500.56 349.58,501.12 349.87,501.67 351.3,504.22 352.73,506.49 354.16,508.55 355.6,510.44 357.03,512.2 358.46,513.83 359.9,515.37 361.33,516.83 362.76,518.2 364.19,519.52 365.63,520.77 367.06,521.97 368.49,523.12 369.93,524.22 371.36,525.29 372.79,526.32 374.23,527.32 375.66,528.28 377.09,529.22 378.52,530.12 379.96,531.01 381.39,531.87 382.82,532.7 384.26,533.52 385.69,534.31 387.12,535.09 388.56,535.85 389.99,536.59 391.42,537.32 392.86,538.03 394.29,538.73 395.72,539.41 397.15,540.08 398.59,540.74 400.02,541.39 401.45,542.02 402.89,542.64 404.32,543.26 405.75,543.86 407.19,544.45 408.62,545.03 410.05,545.61 411.48,546.17 412.92,546.73 414.35,547.27 415.78,547.81 417.22,548.35 418.65,548.87 420.08,549.39 421.51,549.9 422.95,550.4 424.38,550.9 425.81,551.39 427.25,551.87 428.68,552.35 430.11,552.83 431.55,553.29 432.98,553.75 434.41,554.21 435.85,554.66 437.28,555.11 438.71,555.55 440.14,555.98 441.58,556.42 443.01,556.84 444.44,557.26 445.88,557.68 447.31,558.1 448.74,558.5 450.18,558.91 451.61,559.31 453.04,559.71 454.47,560.1 455.91,560.49 457.34,560.88 458.77,561.26 460.21,561.64 461.64,562.01 463.07,562.38 464.5,562.75 465.94,563.12 467.37,563.48 468.8,563.84 470.24,564.2 471.67,564.55 473.1,564.9 474.54,565.25 475.97,565.59 477.4,565.93 478.84,566.27 480.27,566.61 481.7,566.94 483.13,567.27 484.57,567.6 486,567.92" stroke="#5a2ad6" stroke-width="2.1" fill="none" stroke-linejoin="round"/>
<path d="M343.43 484.18h1.4v1.4h-1.4zM345.58 492.6h1.4v1.4h-1.4zM349.17 500.97h1.4v1.4h-1.4zM356.33 511.5h1.4v1.4h-1.4zM377.82 529.42h1.4v1.4h-1.4zM413.65 546.57h1.4v1.4h-1.4zM485.3 567.22h1.4v1.4h-1.4z" fill="#3a1a9a" opacity="0.55"/>
<path d="M342.7,457.66 342.99,458.28 343.27,459.05 343.56,459.89 343.85,460.76 344.13,461.65 344.42,462.56 344.71,463.49 344.99,464.41 345.28,465.34 345.57,466.27 345.85,467.19 346.14,468.12 346.43,469.03 346.71,469.95 347,470.85 347.29,471.75 347.57,472.63 347.86,473.51 348.15,474.38 348.43,475.24 348.72,476.09 349.01,476.93 349.29,477.76 349.58,478.58 349.87,479.38 351.3,483.26 352.73,486.88 354.16,490.24 355.6,493.37 357.03,496.28 358.46,498.98 359.9,501.49 361.33,503.83 362.76,506.02 364.19,508.06 365.63,509.97 367.06,511.75 368.49,513.43 369.93,515 371.36,516.48 372.79,517.88 374.23,519.19 375.66,520.43 377.09,521.6 378.52,522.71 379.96,523.77 381.39,524.76 382.82,525.71 384.26,526.61 385.69,527.47 387.12,528.28 388.56,529.06 389.99,529.8 391.42,530.51 392.86,531.19 394.29,531.84 395.72,532.46 397.15,533.06 398.59,533.63 400.02,534.18 401.45,534.7 402.89,535.21 404.32,535.69 405.75,536.16 407.19,536.61 408.62,537.05 410.05,537.46 411.48,537.87 412.92,538.26 414.35,538.63 415.78,539 417.22,539.35 418.65,539.69 420.08,540.02 421.51,540.33 422.95,540.64 424.38,540.94 425.81,541.23 427.25,541.51 428.68,541.78 430.11,542.05 431.55,542.3 432.98,542.55 434.41,542.8 435.85,543.03 437.28,543.26 438.71,543.48 440.14,543.7 441.58,543.91 443.01,544.11 444.44,544.31 445.88,544.51 447.31,544.7 448.74,544.88 450.18,545.06 451.61,545.24 453.04,545.41 454.47,545.58 455.91,545.74 457.34,545.9 458.77,546.06 460.21,546.21 461.64,546.36 463.07,546.5 464.5,546.65 465.94,546.78 467.37,546.92 468.8,547.05 470.24,547.18 471.67,547.31 473.1,547.44 474.54,547.56 475.97,547.68 477.4,547.79 478.84,547.91 480.27,548.02 481.7,548.13 483.13,548.24 484.57,548.34 486,548.45" stroke="#33dd33" stroke-width="2.1" fill="none" stroke-linejoin="round"/>
<path d="M343.43 460.95h1.4v1.4h-1.4zM345.58 467.88h1.4v1.4h-1.4zM349.17 478.68h1.4v1.4h-1.4zM356.33 495.58h1.4v1.4h-1.4zM377.82 522.01h1.4v1.4h-1.4zM413.65 537.93h1.4v1.4h-1.4zM485.3 547.75h1.4v1.4h-1.4z" fill="#2a9a2a" opacity="0.55"/>
<path d="M342.7,457.63 342.99,458.34 343.27,459.17 343.56,460.04 343.85,460.94 344.13,461.85 344.42,462.77 344.71,463.69 344.99,464.61 345.28,465.53 345.57,466.45 345.85,467.36 346.14,468.27 346.43,469.17 346.71,470.06 347,470.94 347.29,471.81 347.57,472.68 347.86,473.53 348.15,474.38 348.43,475.21 348.72,476.03 349.01,476.85 349.29,477.65 349.58,478.44 349.87,479.23 351.3,482.99 352.73,486.5 354.16,489.77 355.6,492.82 357.03,495.67 358.46,498.33 359.9,500.82 361.33,503.14 362.76,505.32 364.19,507.36 365.63,509.29 367.06,511.09 368.49,512.79 369.93,514.4 371.36,515.91 372.79,517.35 374.23,518.7 375.66,519.99 377.09,521.21 378.52,522.36 379.96,523.47 381.39,524.51 382.82,525.51 384.26,526.47 385.69,527.37 387.12,528.24 388.56,529.07 389.99,529.87 391.42,530.63 392.86,531.36 394.29,532.06 395.72,532.73 397.15,533.38 398.59,534 400.02,534.6 401.45,535.17 402.89,535.72 404.32,536.26 405.75,536.77 407.19,537.27 408.62,537.75 410.05,538.21 411.48,538.66 412.92,539.09 414.35,539.51 415.78,539.92 417.22,540.31 418.65,540.69 420.08,541.06 421.51,541.42 422.95,541.76 424.38,542.1 425.81,542.43 427.25,542.74 428.68,543.05 430.11,543.35 431.55,543.64 432.98,543.93 434.41,544.2 435.85,544.47 437.28,544.73 438.71,544.99 440.14,545.23 441.58,545.48 443.01,545.71 444.44,545.94 445.88,546.17 447.31,546.38 448.74,546.6 450.18,546.81 451.61,547.01 453.04,547.21 454.47,547.4 455.91,547.59 457.34,547.78 458.77,547.96 460.21,548.13 461.64,548.31 463.07,548.48 464.5,548.64 465.94,548.81 467.37,548.97 468.8,549.12 470.24,549.27 471.67,549.42 473.1,549.57 474.54,549.71 475.97,549.85 477.4,549.99 478.84,550.13 480.27,550.26 481.7,550.39 483.13,550.52 484.57,550.64 486,550.76" stroke="#d42a32" stroke-width="2.1" fill="none" stroke-linejoin="round"/>
<path d="M343.43 461.15h1.4v1.4h-1.4zM345.58 468.02h1.4v1.4h-1.4zM349.17 478.53h1.4v1.4h-1.4zM356.33 494.97h1.4v1.4h-1.4zM377.82 521.66h1.4v1.4h-1.4zM413.65 538.81h1.4v1.4h-1.4zM485.3 550.06h1.4v1.4h-1.4z" fill="#9a1a22" opacity="0.55"/>
<path d="M342.7,451.61 342.99,452.11 343.27,452.84 343.56,453.67 343.85,454.59 344.13,455.56 344.42,456.56 344.71,457.6 344.99,458.66 345.28,459.73 345.57,460.81 345.85,461.9 346.14,462.99 346.43,464.08 346.71,465.17 347,466.25 347.29,467.33 347.57,468.4 347.86,469.45 348.15,470.5 348.43,471.53 348.72,472.56 349.01,473.56 349.29,474.56 349.58,475.54 349.87,476.51 351.3,481.12 352.73,485.36 354.16,489.23 355.6,492.77 357.03,496 358.46,498.94 359.9,501.62 361.33,504.08 362.76,506.33 364.19,508.39 365.63,510.28 367.06,512.03 368.49,513.64 369.93,515.13 371.36,516.51 372.79,517.79 374.23,518.99 375.66,520.1 377.09,521.13 378.52,522.1 379.96,523.01 381.39,523.86 382.82,524.66 384.26,525.41 385.69,526.12 387.12,526.79 388.56,527.42 389.99,528.01 391.42,528.58 392.86,529.11 394.29,529.62 395.72,530.1 397.15,530.56 398.59,531 400.02,531.41 401.45,531.81 402.89,532.19 404.32,532.55 405.75,532.9 407.19,533.23 408.62,533.54 410.05,533.85 411.48,534.14 412.92,534.42 414.35,534.68 415.78,534.94 417.22,535.19 418.65,535.43 420.08,535.66 421.51,535.88 422.95,536.09 424.38,536.3 425.81,536.5 427.25,536.69 428.68,536.87 430.11,537.05 431.55,537.22 432.98,537.39 434.41,537.55 435.85,537.71 437.28,537.86 438.71,538.01 440.14,538.15 441.58,538.29 443.01,538.42 444.44,538.55 445.88,538.68 447.31,538.8 448.74,538.92 450.18,539.04 451.61,539.15 453.04,539.26 454.47,539.36 455.91,539.47 457.34,539.57 458.77,539.67 460.21,539.76 461.64,539.86 463.07,539.95 464.5,540.04 465.94,540.12 467.37,540.21 468.8,540.29 470.24,540.37 471.67,540.45 473.1,540.52 474.54,540.6 475.97,540.67 477.4,540.74 478.84,540.81 480.27,540.88 481.7,540.95 483.13,541.01 484.57,541.08 486,541.14" stroke="#dc2ad8" stroke-width="2.1" fill="none" stroke-linejoin="round"/>
<path d="M343.43 454.86h1.4v1.4h-1.4zM345.58 462.84h1.4v1.4h-1.4zM349.17 475.81h1.4v1.4h-1.4zM356.33 495.3h1.4v1.4h-1.4zM377.82 521.4h1.4v1.4h-1.4zM413.65 533.98h1.4v1.4h-1.4zM485.3 540.44h1.4v1.4h-1.4z" fill="#9a1a98" opacity="0.55"/>
<path d="M342.7,446.89 342.99,464.31 343.27,468.74 343.56,471.81 343.85,474.23 344.13,476.27 344.42,478.03 344.71,479.6 344.99,481.01 345.28,482.31 345.57,483.51 345.85,484.63 346.14,485.68 346.43,486.66 346.71,487.6 347,488.48 347.29,489.33 347.57,490.14 347.86,490.92 348.15,491.66 348.43,492.38 348.72,493.07 349.01,493.74 349.29,494.39 349.58,495.02 349.87,495.63 351.3,498.43 352.73,500.92 354.16,503.15 355.6,505.2 357.03,507.08 358.46,508.82 359.9,510.46 361.33,511.99 362.76,513.44 364.19,514.81 365.63,516.12 367.06,517.37 368.49,518.56 369.93,519.71 371.36,520.81 372.79,521.87 374.23,522.89 375.66,523.88 377.09,524.84 378.52,525.76 379.96,526.66 381.39,527.53 382.82,528.38 384.26,529.21 385.69,530.01 387.12,530.8 388.56,531.56 389.99,532.31 391.42,533.04 392.86,533.75 394.29,534.45 395.72,535.13 397.15,535.8 398.59,536.45 400.02,537.1 401.45,537.73 402.89,538.34 404.32,538.95 405.75,539.55 407.19,540.13 408.62,540.71 410.05,541.27 411.48,541.83 412.92,542.38 414.35,542.92 415.78,543.45 417.22,543.97 418.65,544.49 420.08,544.99 421.51,545.49 422.95,545.99 424.38,546.47 425.81,546.95 427.25,547.42 428.68,547.89 430.11,548.35 431.55,548.81 432.98,549.26 434.41,549.7 435.85,550.14 437.28,550.57 438.71,551 440.14,551.42 441.58,551.84 443.01,552.25 444.44,552.66 445.88,553.06 447.31,553.46 448.74,553.86 450.18,554.25 451.61,554.63 453.04,555.02 454.47,555.39 455.91,555.77 457.34,556.14 458.77,556.51 460.21,556.87 461.64,557.23 463.07,557.59 464.5,557.94 465.94,558.29 467.37,558.64 468.8,558.98 470.24,559.32 471.67,559.66 473.1,559.99 474.54,560.33 475.97,560.65 477.4,560.98 478.84,561.3 480.27,561.62 481.7,561.94 483.13,562.26 484.57,562.57 486,562.88" stroke="#22b6d2" stroke-width="2.1" fill="none" stroke-linejoin="round"/>
<path d="M343.43 475.57h1.4v1.4h-1.4zM345.58 485.48h1.4v1.4h-1.4zM349.17 494.93h1.4v1.4h-1.4zM356.33 506.38h1.4v1.4h-1.4zM377.82 525.06h1.4v1.4h-1.4zM413.65 542.22h1.4v1.4h-1.4zM485.3 562.18h1.4v1.4h-1.4z" fill="#1a8aa0" opacity="0.55"/>
<path d="M342.7 439.01V450.84M341.6 439.01h2.2M341.6 450.84h2.2" stroke="#22b6d2" stroke-width="0.9" fill="none" opacity="0.7"/><path d="M357.03 487.29V493.26M355.93 487.29h2.2M355.93 493.26h2.2" stroke="#33dd33" stroke-width="0.9" fill="none" opacity="0.7"/><path d="M414.35 538.55V545.96M413.25 538.55h2.2M413.25 545.96h2.2" stroke="#33dd33" stroke-width="0.9" fill="none" opacity="0.7"/><path d="M486 541.42V548.83M484.9 541.42h2.2M484.9 548.83h2.2" stroke="#33dd33" stroke-width="0.9" fill="none" opacity="0.7"/><path d="M378.52 517.76V529.59M377.42 517.76h2.2M377.42 529.59h2.2" stroke="#dc2ad8" stroke-width="0.9" fill="none" opacity="0.7"/><path d="M414.35 526.6V531.14M413.25 526.6h2.2M413.25 531.14h2.2" stroke="#dc2ad8" stroke-width="0.9" fill="none" opacity="0.7"/><path d="M414.35 561.02V562.81M413.25 561.02h2.2M413.25 562.81h2.2" stroke="#5a2ad6" stroke-width="0.9" fill="none" opacity="0.7"/>
<rect x="427.3" y="426.4" width="84.5" height="52.5" fill="#fff" stroke="#505050" stroke-width="1.1"/>
<path d="M431.3 432.8H450.2" stroke="#141414" stroke-width="1.5"/>
<text x="452.9" y="435.1" font-size="6.6" fill="#111111" stroke="#111111" stroke-width="0.12">wild-type VKORC1</text>
<path d="M431.3 440.7H450.2" stroke="#5a2ad6" stroke-width="1.5"/>
<text x="452.9" y="443" font-size="6.6" fill="#6a2ae0" stroke="#6a2ae0" stroke-width="0.12">Val66Gly</text>
<path d="M431.3 448.6H450.2" stroke="#33dd33" stroke-width="1.5"/>
<text x="452.9" y="450.9" font-size="6.6" fill="#3ad83a" stroke="#3ad83a" stroke-width="0.12">Val66Met</text>
<path d="M431.3 456.4H450.2" stroke="#d42a32" stroke-width="1.5"/>
<text x="452.9" y="458.7" font-size="6.6" fill="#d8283a" stroke="#d8283a" stroke-width="0.12">Gly71Ala</text>
<path d="M431.3 464.2H450.2" stroke="#dc2ad8" stroke-width="1.5"/>
<text x="452.9" y="466.5" font-size="6.6" fill="#d82ad8" stroke="#d82ad8" stroke-width="0.12">Asn77Ser</text>
<path d="M431.3 472.1H450.2" stroke="#22b6d2" stroke-width="1.5"/>
<text x="452.9" y="474.4" font-size="6.6" fill="#30c8e0" stroke="#30c8e0" stroke-width="0.12">Asn77Tyr</text>
<text x="476.3" y="509.4" font-size="11" font-weight="bold" letter-spacing="0.35" fill="#111" stroke="#111" stroke-width="0.15">IC</text>
<text x="487.7" y="516" font-size="7.4" font-weight="bold" letter-spacing="0.25" fill="#111" stroke="#111" stroke-width="0.15">50</text>
<text x="414.6" y="616.1" font-size="11.25" text-anchor="middle" fill="#111" stroke="#111" stroke-width="0.22">[warfarin] (μM)</text>
<text transform="translate(274.8 506.2) rotate(-90)" font-size="11.0" text-anchor="middle" fill="#111" stroke="#111" stroke-width="0.22">% FIX activity</text>
<text transform="translate(286.7 505.8) rotate(-90)" font-size="11.0" text-anchor="middle" fill="#111" stroke="#111" stroke-width="0.22">normalized to 0 μM warfarin</text>
<text x="263.6" y="427.4" font-size="11" font-weight="bold" fill="#111" stroke="#111" stroke-width="0.35">F</text>
</svg>
</body></html>
